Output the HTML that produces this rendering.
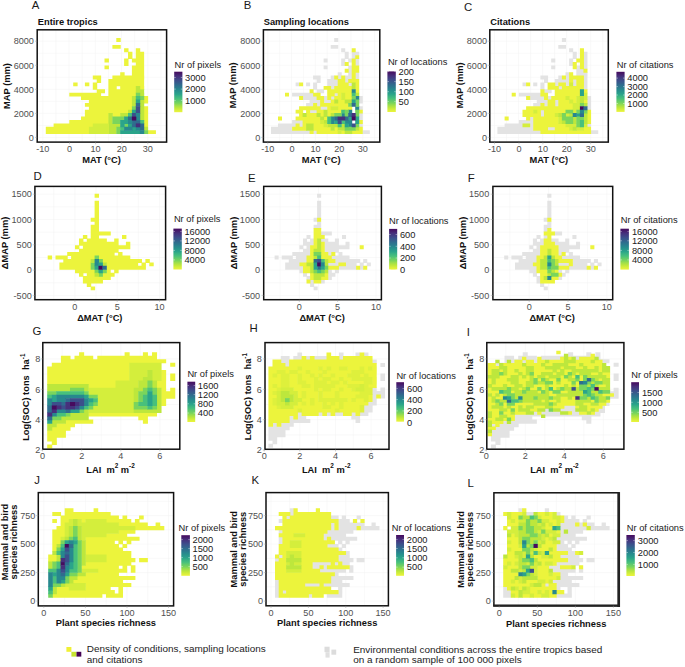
<!DOCTYPE html>
<html><head><meta charset="utf-8"><title>Figure</title>
<style>html,body{margin:0;padding:0;background:#fff;}svg{display:block;}text{font-family:"Liberation Sans",sans-serif;}</style>
</head><body>
<svg width="685" height="667" viewBox="0 0 685 667" font-family="Liberation Sans, sans-serif">
<defs><linearGradient id="vir" x1="0" y1="1" x2="0" y2="0">
<stop offset="0.00" stop-color="#ecf43c"/>
<stop offset="0.06" stop-color="#d4ee3c"/>
<stop offset="0.11" stop-color="#bde73c"/>
<stop offset="0.17" stop-color="#9cde4c"/>
<stop offset="0.22" stop-color="#7ad55c"/>
<stop offset="0.28" stop-color="#61ca6c"/>
<stop offset="0.33" stop-color="#48c07c"/>
<stop offset="0.39" stop-color="#39b283"/>
<stop offset="0.44" stop-color="#2aa48a"/>
<stop offset="0.50" stop-color="#28968c"/>
<stop offset="0.56" stop-color="#27888e"/>
<stop offset="0.61" stop-color="#2b7a8e"/>
<stop offset="0.67" stop-color="#2f6c8e"/>
<stop offset="0.72" stop-color="#365e8c"/>
<stop offset="0.78" stop-color="#3c4f8b"/>
<stop offset="0.83" stop-color="#414084"/>
<stop offset="0.89" stop-color="#46307c"/>
<stop offset="0.94" stop-color="#461e6d"/>
<stop offset="1.00" stop-color="#460b5e"/>
</linearGradient></defs>
<rect width="685" height="667" fill="#ffffff"/>
<g stroke="#f3f3f3" stroke-width="0.5"><line x1="42.80" y1="29.80" x2="42.80" y2="142.10"/><line x1="55.92" y1="29.80" x2="55.92" y2="142.10"/><line x1="69.05" y1="29.80" x2="69.05" y2="142.10"/><line x1="82.18" y1="29.80" x2="82.18" y2="142.10"/><line x1="95.30" y1="29.80" x2="95.30" y2="142.10"/><line x1="108.43" y1="29.80" x2="108.43" y2="142.10"/><line x1="121.55" y1="29.80" x2="121.55" y2="142.10"/><line x1="134.68" y1="29.80" x2="134.68" y2="142.10"/><line x1="147.80" y1="29.80" x2="147.80" y2="142.10"/><line x1="160.93" y1="29.80" x2="160.93" y2="142.10"/><line x1="37.20" y1="41.20" x2="166.60" y2="41.20"/><line x1="37.20" y1="53.23" x2="166.60" y2="53.23"/><line x1="37.20" y1="65.25" x2="166.60" y2="65.25"/><line x1="37.20" y1="77.28" x2="166.60" y2="77.28"/><line x1="37.20" y1="89.30" x2="166.60" y2="89.30"/><line x1="37.20" y1="101.33" x2="166.60" y2="101.33"/><line x1="37.20" y1="113.35" x2="166.60" y2="113.35"/><line x1="37.20" y1="125.38" x2="166.60" y2="125.38"/><line x1="37.20" y1="137.40" x2="166.60" y2="137.40"/></g>
<path fill="#ecf43c" d="M116.3 38.1h4.42v3.91h-4.42zM112.4 44.9h8.33v3.91h-8.33zM124.1 48.3h4.42v3.91h-4.42zM135.8 48.3h4.42v3.91h-4.42zM128.0 51.8h4.42v3.91h-4.42zM135.8 51.8h8.33v3.91h-8.33zM128.0 55.2h4.42v3.91h-4.42zM135.8 55.2h8.33v3.91h-8.33zM104.5 58.6h4.42v3.91h-4.42zM124.1 58.6h4.42v3.91h-4.42zM131.9 58.6h12.25v3.91h-12.25zM124.1 62.0h4.42v3.91h-4.42zM135.8 62.0h8.33v3.91h-8.33zM104.5 65.4h4.42v3.91h-4.42zM131.9 65.4h12.25v3.91h-12.25zM131.9 68.8h12.25v3.91h-12.25zM120.2 72.2h4.42v3.91h-4.42zM131.9 72.2h12.25v3.91h-12.25zM92.8 75.6h8.33v3.91h-8.33zM112.4 75.6h31.82v3.91h-31.82zM96.7 79.0h4.42v3.91h-4.42zM108.4 79.0h35.73v3.91h-35.73zM73.2 82.4h4.42v3.91h-4.42zM84.9 82.4h4.42v3.91h-4.42zM92.8 82.4h4.42v3.91h-4.42zM108.4 82.4h35.73v3.91h-35.73zM92.8 85.9h4.42v3.91h-4.42zM108.4 85.9h8.33v3.91h-8.33zM120.2 85.9h16.16v3.91h-16.16zM139.8 85.9h4.42v3.91h-4.42zM96.7 89.3h8.33v3.91h-8.33zM108.4 89.3h27.91v3.91h-27.91zM69.3 92.7h31.82v3.91h-31.82zM108.4 92.7h27.91v3.91h-27.91zM81.0 96.1h51.40v3.91h-51.40zM143.7 96.1h4.42v3.91h-4.42zM88.9 99.5h43.56v3.91h-43.56zM143.7 99.5h4.42v3.91h-4.42zM84.9 102.9h47.48v3.91h-47.48zM88.9 106.3h43.56v3.91h-43.56zM143.7 106.3h4.42v3.91h-4.42zM84.9 109.7h43.56v3.91h-43.56zM143.7 109.7h4.42v3.91h-4.42zM84.9 113.1h23.99v3.91h-23.99zM112.4 113.1h8.33v3.91h-8.33zM143.7 113.1h4.42v3.91h-4.42zM81.0 116.6h27.91v3.91h-27.91zM143.7 116.6h4.42v3.91h-4.42zM69.3 120.0h39.65v3.91h-39.65zM143.7 120.0h4.42v3.91h-4.42zM53.6 123.4h39.65v3.91h-39.65zM143.7 123.4h4.42v3.91h-4.42zM45.8 126.8h43.56v3.91h-43.56zM45.8 130.2h43.56v3.91h-43.56zM147.6 130.2h8.33v3.91h-8.33z"/>
<path fill="#bde73c" d="M135.8 85.9h4.42v3.91h-4.42zM135.8 89.3h8.33v3.91h-8.33zM139.8 92.7h4.42v3.91h-4.42zM131.9 96.1h4.42v3.91h-4.42zM131.9 99.5h4.42v3.91h-4.42zM139.8 99.5h4.42v3.91h-4.42zM131.9 102.9h4.42v3.91h-4.42zM139.8 102.9h4.42v3.91h-4.42zM139.8 106.3h4.42v3.91h-4.42zM128.0 109.7h4.42v3.91h-4.42zM139.8 109.7h4.42v3.91h-4.42zM108.4 113.1h4.42v3.91h-4.42zM120.2 113.1h8.33v3.91h-8.33zM139.8 113.1h4.42v3.91h-4.42zM108.4 116.6h4.42v3.91h-4.42zM139.8 116.6h4.42v3.91h-4.42zM108.4 120.0h4.42v3.91h-4.42zM108.4 123.4h12.25v3.91h-12.25zM108.4 126.8h8.33v3.91h-8.33zM143.7 126.8h4.42v3.91h-4.42zM108.4 130.2h8.33v3.91h-8.33z"/>
<path fill="#7ad55c" d="M135.8 92.7h4.42v3.91h-4.42zM139.8 96.1h4.42v3.91h-4.42zM131.9 106.3h4.42v3.91h-4.42zM112.4 116.6h12.25v3.91h-12.25zM112.4 120.0h8.33v3.91h-8.33zM124.1 123.4h4.42v3.91h-4.42zM116.3 126.8h4.42v3.91h-4.42zM116.3 130.2h4.42v3.91h-4.42zM143.7 130.2h4.42v3.91h-4.42z"/>
<path fill="#48c07c" d="M135.8 96.1h4.42v3.91h-4.42zM128.0 113.1h4.42v3.91h-4.42zM139.8 120.0h4.42v3.91h-4.42zM120.2 126.8h4.42v3.91h-4.42z"/>
<path fill="#2aa48a" d="M135.8 99.5h4.42v3.91h-4.42zM131.9 109.7h4.42v3.91h-4.42zM124.1 116.6h4.42v3.91h-4.42zM120.2 120.0h8.33v3.91h-8.33zM120.2 123.4h4.42v3.91h-4.42zM128.0 123.4h4.42v3.91h-4.42zM131.9 126.8h4.42v3.91h-4.42zM120.2 130.2h20.07v3.91h-20.07z"/>
<path fill="#2f6c8e" d="M135.8 102.9h4.42v3.91h-4.42zM128.0 116.6h4.42v3.91h-4.42zM131.9 120.0h8.33v3.91h-8.33zM131.9 123.4h4.42v3.91h-4.42zM139.8 123.4h4.42v3.91h-4.42zM139.8 126.8h4.42v3.91h-4.42z"/>
<path fill="#3c4f8b" d="M135.8 106.3h4.42v3.91h-4.42zM135.8 109.7h4.42v3.91h-4.42zM131.9 113.1h4.42v3.91h-4.42z"/>
<path fill="#27888e" d="M135.8 113.1h4.42v3.91h-4.42zM135.8 116.6h4.42v3.91h-4.42zM128.0 120.0h4.42v3.91h-4.42zM124.1 126.8h8.33v3.91h-8.33zM135.8 126.8h4.42v3.91h-4.42zM139.8 130.2h4.42v3.91h-4.42z"/>
<path fill="#460b5e" d="M131.9 116.6h4.42v3.91h-4.42z"/>
<path fill="#d4ee3c" d="M92.8 123.4h16.16v3.91h-16.16zM88.9 126.8h20.07v3.91h-20.07zM88.9 130.2h20.07v3.91h-20.07z"/>
<path fill="#46307c" d="M135.8 123.4h4.42v3.91h-4.42z"/>
<rect x="37.20" y="29.80" width="129.40" height="112.30" fill="none" stroke="#111" stroke-width="1.50"/>
<g stroke="#999" stroke-width="0.45"><line x1="42.80" y1="142.10" x2="42.80" y2="144.30"/><line x1="69.50" y1="142.10" x2="69.50" y2="144.30"/><line x1="95.60" y1="142.10" x2="95.60" y2="144.30"/><line x1="121.70" y1="142.10" x2="121.70" y2="144.30"/><line x1="147.80" y1="142.10" x2="147.80" y2="144.30"/><line x1="35.00" y1="41.20" x2="37.20" y2="41.20"/><line x1="35.00" y1="65.30" x2="37.20" y2="65.30"/><line x1="35.00" y1="89.30" x2="37.20" y2="89.30"/><line x1="35.00" y1="113.40" x2="37.20" y2="113.40"/><line x1="35.00" y1="137.40" x2="37.20" y2="137.40"/></g>
<text x="42.80" y="151.70" font-size="9.10" text-anchor="middle" font-weight="normal" fill="#505050">-10</text>
<text x="69.50" y="151.70" font-size="9.10" text-anchor="middle" font-weight="normal" fill="#505050">0</text>
<text x="95.60" y="151.70" font-size="9.10" text-anchor="middle" font-weight="normal" fill="#505050">10</text>
<text x="121.70" y="151.70" font-size="9.10" text-anchor="middle" font-weight="normal" fill="#505050">20</text>
<text x="147.80" y="151.70" font-size="9.10" text-anchor="middle" font-weight="normal" fill="#505050">30</text>
<text x="33.90" y="44.40" font-size="9.10" text-anchor="end" font-weight="normal" fill="#505050">8000</text>
<text x="33.90" y="68.50" font-size="9.10" text-anchor="end" font-weight="normal" fill="#505050">6000</text>
<text x="33.90" y="92.50" font-size="9.10" text-anchor="end" font-weight="normal" fill="#505050">4000</text>
<text x="33.90" y="116.60" font-size="9.10" text-anchor="end" font-weight="normal" fill="#505050">2000</text>
<text x="33.90" y="140.60" font-size="9.10" text-anchor="end" font-weight="normal" fill="#505050">0</text>
<text x="31.80" y="8.80" font-size="11.40" text-anchor="start" font-weight="normal" fill="#1a1a1a">A</text>
<text x="37.80" y="24.60" font-size="9.30" text-anchor="start" font-weight="bold" fill="#111">Entire tropics</text>
<text x="101.50" y="162.70" font-size="9.30" text-anchor="middle" font-weight="bold" fill="#111">MAT (°C)</text>
<text x="10.30" y="86.00" font-size="9.30" text-anchor="middle" font-weight="bold" fill="#111" transform="rotate(-90 10.3 86)">MAP (mm)</text>
<text x="174.60" y="67.80" font-size="9.30" text-anchor="start" font-weight="normal" fill="#1a1a1a">Nr of pixels</text>
<rect x="174.20" y="71.70" width="8.20" height="40.50" fill="url(#vir)"/>
<g stroke="#fff" stroke-width="0.5" opacity="0.8"><line x1="174.20" y1="77.50" x2="175.80" y2="77.50"/><line x1="180.80" y1="77.50" x2="182.40" y2="77.50"/><line x1="174.20" y1="89.10" x2="175.80" y2="89.10"/><line x1="180.80" y1="89.10" x2="182.40" y2="89.10"/><line x1="174.20" y1="100.70" x2="175.80" y2="100.70"/><line x1="180.80" y1="100.70" x2="182.40" y2="100.70"/></g>
<text x="185.00" y="80.80" font-size="9.30" text-anchor="start" font-weight="normal" fill="#1a1a1a">3000</text>
<text x="185.00" y="92.40" font-size="9.30" text-anchor="start" font-weight="normal" fill="#1a1a1a">2000</text>
<text x="185.00" y="104.00" font-size="9.30" text-anchor="start" font-weight="normal" fill="#1a1a1a">1000</text>
<g stroke="#f3f3f3" stroke-width="0.5"><line x1="267.80" y1="29.80" x2="267.80" y2="142.10"/><line x1="279.68" y1="29.80" x2="279.68" y2="142.10"/><line x1="291.55" y1="29.80" x2="291.55" y2="142.10"/><line x1="303.43" y1="29.80" x2="303.43" y2="142.10"/><line x1="315.30" y1="29.80" x2="315.30" y2="142.10"/><line x1="327.18" y1="29.80" x2="327.18" y2="142.10"/><line x1="339.05" y1="29.80" x2="339.05" y2="142.10"/><line x1="350.93" y1="29.80" x2="350.93" y2="142.10"/><line x1="362.80" y1="29.80" x2="362.80" y2="142.10"/><line x1="374.68" y1="29.80" x2="374.68" y2="142.10"/><line x1="263.40" y1="41.20" x2="379.80" y2="41.20"/><line x1="263.40" y1="53.23" x2="379.80" y2="53.23"/><line x1="263.40" y1="65.25" x2="379.80" y2="65.25"/><line x1="263.40" y1="77.28" x2="379.80" y2="77.28"/><line x1="263.40" y1="89.30" x2="379.80" y2="89.30"/><line x1="263.40" y1="101.33" x2="379.80" y2="101.33"/><line x1="263.40" y1="113.35" x2="379.80" y2="113.35"/><line x1="263.40" y1="125.38" x2="379.80" y2="125.38"/><line x1="263.40" y1="137.40" x2="379.80" y2="137.40"/></g>
<path fill="#e3e3e3" d="M334.2 38.1h4.01v3.91h-4.01zM330.7 44.9h7.52v3.91h-7.52zM341.2 48.3h4.01v3.91h-4.01zM344.7 51.8h4.01v3.91h-4.01zM351.7 51.8h7.52v3.91h-7.52zM344.7 55.2h4.01v3.91h-4.01zM351.7 55.2h4.01v3.91h-4.01zM323.6 58.6h4.01v3.91h-4.01zM341.2 58.6h4.01v3.91h-4.01zM348.2 58.6h4.01v3.91h-4.01zM355.2 58.6h4.01v3.91h-4.01zM341.2 62.0h4.01v3.91h-4.01zM355.2 62.0h4.01v3.91h-4.01zM323.6 65.4h4.01v3.91h-4.01zM348.2 65.4h4.01v3.91h-4.01zM348.2 68.8h4.01v3.91h-4.01zM337.7 72.2h4.01v3.91h-4.01zM348.2 72.2h4.01v3.91h-4.01zM355.2 72.2h4.01v3.91h-4.01zM313.1 75.6h7.52v3.91h-7.52zM330.7 75.6h4.01v3.91h-4.01zM337.7 75.6h4.01v3.91h-4.01zM344.7 75.6h7.52v3.91h-7.52zM355.2 75.6h4.01v3.91h-4.01zM316.6 79.0h4.01v3.91h-4.01zM327.2 79.0h11.03v3.91h-11.03zM344.7 79.0h4.01v3.91h-4.01zM295.6 82.4h4.01v3.91h-4.01zM306.1 82.4h4.01v3.91h-4.01zM313.1 82.4h4.01v3.91h-4.01zM327.2 82.4h11.03v3.91h-11.03zM348.2 82.4h4.01v3.91h-4.01zM313.1 85.9h4.01v3.91h-4.01zM330.7 85.9h4.01v3.91h-4.01zM316.6 89.3h7.52v3.91h-7.52zM292.1 92.7h21.56v3.91h-21.56zM334.2 92.7h4.01v3.91h-4.01zM302.6 96.1h14.54v3.91h-14.54zM323.6 96.1h4.01v3.91h-4.01zM330.7 96.1h4.01v3.91h-4.01zM358.8 96.1h4.01v3.91h-4.01zM309.6 99.5h11.03v3.91h-11.03zM323.6 99.5h7.52v3.91h-7.52zM358.8 99.5h4.01v3.91h-4.01zM306.1 102.9h7.52v3.91h-7.52zM316.6 102.9h4.01v3.91h-4.01zM320.1 106.3h7.52v3.91h-7.52zM358.8 106.3h4.01v3.91h-4.01zM309.6 109.7h7.52v3.91h-7.52zM358.8 113.1h4.01v3.91h-4.01zM358.8 116.6h4.01v3.91h-4.01zM292.1 120.0h11.03v3.91h-11.03zM278.0 123.4h18.05v3.91h-18.05zM299.1 123.4h4.01v3.91h-4.01zM358.8 123.4h4.01v3.91h-4.01zM271.0 126.8h21.56v3.91h-21.56zM271.0 130.2h39.11v3.91h-39.11zM313.1 130.2h4.01v3.91h-4.01zM362.3 130.2h7.52v3.91h-7.52z"/>
<path fill="#ecf43c" d="M351.7 48.3h4.01v3.91h-4.01zM355.2 55.2h4.01v3.91h-4.01zM351.7 58.6h4.01v3.91h-4.01zM344.7 62.0h4.01v3.91h-4.01zM351.7 62.0h4.01v3.91h-4.01zM351.7 65.4h7.52v3.91h-7.52zM344.7 68.8h4.01v3.91h-4.01zM351.7 68.8h7.52v3.91h-7.52zM351.7 72.2h4.01v3.91h-4.01zM334.2 75.6h4.01v3.91h-4.01zM341.2 75.6h4.01v3.91h-4.01zM351.7 75.6h4.01v3.91h-4.01zM337.7 79.0h7.52v3.91h-7.52zM348.2 79.0h11.03v3.91h-11.03zM299.1 82.4h4.01v3.91h-4.01zM337.7 82.4h11.03v3.91h-11.03zM355.2 82.4h4.01v3.91h-4.01zM323.6 85.9h7.52v3.91h-7.52zM334.2 85.9h18.05v3.91h-18.05zM355.2 85.9h4.01v3.91h-4.01zM309.6 89.3h4.01v3.91h-4.01zM327.2 89.3h25.07v3.91h-25.07zM355.2 89.3h4.01v3.91h-4.01zM285.0 92.7h4.01v3.91h-4.01zM313.1 92.7h7.52v3.91h-7.52zM327.2 92.7h7.52v3.91h-7.52zM337.7 92.7h4.01v3.91h-4.01zM344.7 92.7h7.52v3.91h-7.52zM299.1 96.1h4.01v3.91h-4.01zM316.6 96.1h7.52v3.91h-7.52zM327.2 96.1h4.01v3.91h-4.01zM334.2 96.1h7.52v3.91h-7.52zM344.7 96.1h7.52v3.91h-7.52zM320.1 99.5h4.01v3.91h-4.01zM330.7 99.5h4.01v3.91h-4.01zM337.7 99.5h7.52v3.91h-7.52zM313.1 102.9h4.01v3.91h-4.01zM320.1 102.9h28.58v3.91h-28.58zM299.1 106.3h21.56v3.91h-21.56zM327.2 106.3h4.01v3.91h-4.01zM337.7 106.3h14.54v3.91h-14.54zM295.6 109.7h7.52v3.91h-7.52zM306.1 109.7h4.01v3.91h-4.01zM316.6 109.7h7.52v3.91h-7.52zM327.2 109.7h14.54v3.91h-14.54zM358.8 109.7h4.01v3.91h-4.01zM299.1 113.1h4.01v3.91h-4.01zM306.1 113.1h11.03v3.91h-11.03zM320.1 113.1h4.01v3.91h-4.01zM327.2 113.1h4.01v3.91h-4.01zM278.0 116.6h4.01v3.91h-4.01zM295.6 116.6h25.07v3.91h-25.07zM323.6 116.6h4.01v3.91h-4.01zM302.6 120.0h18.05v3.91h-18.05zM358.8 120.0h4.01v3.91h-4.01zM295.6 123.4h4.01v3.91h-4.01zM302.6 123.4h4.01v3.91h-4.01zM313.1 123.4h11.03v3.91h-11.03zM292.1 126.8h14.54v3.91h-14.54zM313.1 126.8h18.05v3.91h-18.05zM334.2 126.8h4.01v3.91h-4.01zM358.8 126.8h4.01v3.91h-4.01zM309.6 130.2h4.01v3.91h-4.01zM316.6 130.2h21.56v3.91h-21.56zM341.2 130.2h4.01v3.91h-4.01zM351.7 130.2h11.03v3.91h-11.03z"/>
<path fill="#bde73c" d="M351.7 82.4h4.01v3.91h-4.01zM351.7 85.9h4.01v3.91h-4.01zM355.2 92.7h4.01v3.91h-4.01zM334.2 99.5h4.01v3.91h-4.01zM344.7 99.5h7.52v3.91h-7.52zM323.6 109.7h4.01v3.91h-4.01zM302.6 113.1h4.01v3.91h-4.01zM316.6 113.1h4.01v3.91h-4.01zM323.6 113.1h4.01v3.91h-4.01zM330.7 113.1h4.01v3.91h-4.01zM320.1 116.6h4.01v3.91h-4.01zM323.6 120.0h4.01v3.91h-4.01zM306.1 123.4h7.52v3.91h-7.52zM327.2 123.4h11.03v3.91h-11.03zM341.2 123.4h4.01v3.91h-4.01zM306.1 126.8h7.52v3.91h-7.52zM330.7 126.8h4.01v3.91h-4.01zM337.7 126.8h7.52v3.91h-7.52zM355.2 126.8h4.01v3.91h-4.01zM344.7 130.2h7.52v3.91h-7.52z"/>
<path fill="#27888e" d="M351.7 89.3h4.01v3.91h-4.01zM355.2 96.1h4.01v3.91h-4.01zM355.2 106.3h4.01v3.91h-4.01zM348.2 109.7h4.01v3.91h-4.01zM341.2 113.1h4.01v3.91h-4.01zM330.7 116.6h4.01v3.91h-4.01zM330.7 120.0h4.01v3.91h-4.01zM344.7 120.0h7.52v3.91h-7.52zM348.2 123.4h4.01v3.91h-4.01z"/>
<path fill="#d4ee3c" d="M341.2 92.7h4.01v3.91h-4.01zM341.2 96.1h4.01v3.91h-4.01zM330.7 106.3h7.52v3.91h-7.52zM320.1 120.0h4.01v3.91h-4.01zM323.6 123.4h4.01v3.91h-4.01zM337.7 130.2h4.01v3.91h-4.01z"/>
<path fill="#48c07c" d="M351.7 92.7h4.01v3.91h-4.01zM341.2 109.7h4.01v3.91h-4.01zM327.2 116.6h4.01v3.91h-4.01zM327.2 120.0h4.01v3.91h-4.01zM341.2 120.0h4.01v3.91h-4.01zM337.7 123.4h4.01v3.91h-4.01z"/>
<path fill="#7ad55c" d="M351.7 96.1h4.01v3.91h-4.01zM355.2 99.5h4.01v3.91h-4.01zM348.2 102.9h4.01v3.91h-4.01zM355.2 102.9h4.01v3.91h-4.01zM344.7 109.7h4.01v3.91h-4.01zM355.2 109.7h4.01v3.91h-4.01zM334.2 113.1h7.52v3.91h-7.52zM344.7 113.1h4.01v3.91h-4.01zM355.2 113.1h4.01v3.91h-4.01zM355.2 123.4h4.01v3.91h-4.01zM344.7 126.8h11.03v3.91h-11.03z"/>
<path fill="#2aa48a" d="M351.7 99.5h4.01v3.91h-4.01zM348.2 116.6h4.01v3.91h-4.01zM355.2 116.6h4.01v3.91h-4.01zM334.2 120.0h4.01v3.91h-4.01zM355.2 120.0h4.01v3.91h-4.01zM344.7 123.4h4.01v3.91h-4.01z"/>
<path fill="#2f6c8e" d="M351.7 102.9h4.01v3.91h-4.01zM348.2 113.1h4.01v3.91h-4.01zM334.2 116.6h4.01v3.91h-4.01zM344.7 116.6h4.01v3.91h-4.01z"/>
<path fill="#46307c" d="M351.7 113.1h4.01v3.91h-4.01zM337.7 116.6h7.52v3.91h-7.52z"/>
<path fill="#460b5e" d="M351.7 116.6h4.01v3.91h-4.01z"/>
<path fill="#3c4f8b" d="M337.7 120.0h4.01v3.91h-4.01zM351.7 123.4h4.01v3.91h-4.01z"/>
<rect x="263.40" y="29.80" width="116.40" height="112.30" fill="none" stroke="#111" stroke-width="1.50"/>
<g stroke="#999" stroke-width="0.45"><line x1="267.80" y1="142.10" x2="267.80" y2="144.30"/><line x1="292.00" y1="142.10" x2="292.00" y2="144.30"/><line x1="315.60" y1="142.10" x2="315.60" y2="144.30"/><line x1="339.20" y1="142.10" x2="339.20" y2="144.30"/><line x1="362.80" y1="142.10" x2="362.80" y2="144.30"/><line x1="261.20" y1="41.20" x2="263.40" y2="41.20"/><line x1="261.20" y1="65.30" x2="263.40" y2="65.30"/><line x1="261.20" y1="89.30" x2="263.40" y2="89.30"/><line x1="261.20" y1="113.40" x2="263.40" y2="113.40"/><line x1="261.20" y1="137.40" x2="263.40" y2="137.40"/></g>
<text x="267.80" y="151.70" font-size="9.10" text-anchor="middle" font-weight="normal" fill="#505050">-10</text>
<text x="292.00" y="151.70" font-size="9.10" text-anchor="middle" font-weight="normal" fill="#505050">0</text>
<text x="315.60" y="151.70" font-size="9.10" text-anchor="middle" font-weight="normal" fill="#505050">10</text>
<text x="339.20" y="151.70" font-size="9.10" text-anchor="middle" font-weight="normal" fill="#505050">20</text>
<text x="362.80" y="151.70" font-size="9.10" text-anchor="middle" font-weight="normal" fill="#505050">30</text>
<text x="260.40" y="44.40" font-size="9.10" text-anchor="end" font-weight="normal" fill="#505050">8000</text>
<text x="260.40" y="68.50" font-size="9.10" text-anchor="end" font-weight="normal" fill="#505050">6000</text>
<text x="260.40" y="92.50" font-size="9.10" text-anchor="end" font-weight="normal" fill="#505050">4000</text>
<text x="260.40" y="116.60" font-size="9.10" text-anchor="end" font-weight="normal" fill="#505050">2000</text>
<text x="260.40" y="140.60" font-size="9.10" text-anchor="end" font-weight="normal" fill="#505050">0</text>
<text x="243.70" y="9.30" font-size="11.40" text-anchor="start" font-weight="normal" fill="#1a1a1a">B</text>
<text x="263.70" y="24.60" font-size="9.30" text-anchor="start" font-weight="bold" fill="#111">Sampling locations</text>
<text x="321.20" y="163.00" font-size="9.30" text-anchor="middle" font-weight="bold" fill="#111">MAT (°C)</text>
<text x="236.00" y="85.40" font-size="9.30" text-anchor="middle" font-weight="bold" fill="#111" transform="rotate(-90 236 85.4)">MAP (mm)</text>
<text x="387.90" y="65.00" font-size="9.30" text-anchor="start" font-weight="normal" fill="#1a1a1a">Nr of locations</text>
<rect x="387.40" y="71.40" width="8.40" height="40.60" fill="url(#vir)"/>
<g stroke="#fff" stroke-width="0.5" opacity="0.8"><line x1="387.40" y1="71.60" x2="389.00" y2="71.60"/><line x1="394.20" y1="71.60" x2="395.80" y2="71.60"/><line x1="387.40" y1="81.60" x2="389.00" y2="81.60"/><line x1="394.20" y1="81.60" x2="395.80" y2="81.60"/><line x1="387.40" y1="91.70" x2="389.00" y2="91.70"/><line x1="394.20" y1="91.70" x2="395.80" y2="91.70"/><line x1="387.40" y1="101.70" x2="389.00" y2="101.70"/><line x1="394.20" y1="101.70" x2="395.80" y2="101.70"/></g>
<text x="398.50" y="74.90" font-size="9.30" text-anchor="start" font-weight="normal" fill="#1a1a1a">200</text>
<text x="398.50" y="84.90" font-size="9.30" text-anchor="start" font-weight="normal" fill="#1a1a1a">150</text>
<text x="398.50" y="95.00" font-size="9.30" text-anchor="start" font-weight="normal" fill="#1a1a1a">100</text>
<text x="398.50" y="105.00" font-size="9.30" text-anchor="start" font-weight="normal" fill="#1a1a1a">50</text>
<g stroke="#f3f3f3" stroke-width="0.5"><line x1="494.50" y1="29.80" x2="494.50" y2="142.10"/><line x1="506.52" y1="29.80" x2="506.52" y2="142.10"/><line x1="518.55" y1="29.80" x2="518.55" y2="142.10"/><line x1="530.58" y1="29.80" x2="530.58" y2="142.10"/><line x1="542.60" y1="29.80" x2="542.60" y2="142.10"/><line x1="554.62" y1="29.80" x2="554.62" y2="142.10"/><line x1="566.65" y1="29.80" x2="566.65" y2="142.10"/><line x1="578.68" y1="29.80" x2="578.68" y2="142.10"/><line x1="590.70" y1="29.80" x2="590.70" y2="142.10"/><line x1="602.73" y1="29.80" x2="602.73" y2="142.10"/><line x1="489.80" y1="41.20" x2="608.30" y2="41.20"/><line x1="489.80" y1="53.23" x2="608.30" y2="53.23"/><line x1="489.80" y1="65.25" x2="608.30" y2="65.25"/><line x1="489.80" y1="77.28" x2="608.30" y2="77.28"/><line x1="489.80" y1="89.30" x2="608.30" y2="89.30"/><line x1="489.80" y1="101.33" x2="608.30" y2="101.33"/><line x1="489.80" y1="113.35" x2="608.30" y2="113.35"/><line x1="489.80" y1="125.38" x2="608.30" y2="125.38"/><line x1="489.80" y1="137.40" x2="608.30" y2="137.40"/></g>
<path fill="#e3e3e3" d="M561.9 38.1h4.08v3.91h-4.08zM558.3 44.9h7.67v3.91h-7.67zM569.1 48.3h4.08v3.91h-4.08zM572.7 51.8h4.08v3.91h-4.08zM583.4 51.8h4.08v3.91h-4.08zM572.7 55.2h4.08v3.91h-4.08zM583.4 55.2h4.08v3.91h-4.08zM551.2 58.6h4.08v3.91h-4.08zM569.1 58.6h4.08v3.91h-4.08zM583.4 58.6h4.08v3.91h-4.08zM569.1 62.0h4.08v3.91h-4.08zM583.4 62.0h4.08v3.91h-4.08zM551.2 65.4h4.08v3.91h-4.08zM576.3 65.4h4.08v3.91h-4.08zM583.4 65.4h4.08v3.91h-4.08zM576.3 68.8h7.67v3.91h-7.67zM565.5 72.2h4.08v3.91h-4.08zM576.3 72.2h11.25v3.91h-11.25zM540.4 75.6h7.67v3.91h-7.67zM558.3 75.6h4.08v3.91h-4.08zM565.5 75.6h4.08v3.91h-4.08zM583.4 75.6h4.08v3.91h-4.08zM544.0 79.0h4.08v3.91h-4.08zM554.8 79.0h14.84v3.91h-14.84zM572.7 79.0h4.08v3.91h-4.08zM583.4 79.0h4.08v3.91h-4.08zM522.5 82.4h4.08v3.91h-4.08zM533.2 82.4h4.08v3.91h-4.08zM540.4 82.4h4.08v3.91h-4.08zM554.8 82.4h4.08v3.91h-4.08zM565.5 82.4h4.08v3.91h-4.08zM572.7 82.4h4.08v3.91h-4.08zM583.4 82.4h4.08v3.91h-4.08zM540.4 85.9h4.08v3.91h-4.08zM558.3 85.9h4.08v3.91h-4.08zM583.4 85.9h4.08v3.91h-4.08zM544.0 89.3h7.67v3.91h-7.67zM518.9 92.7h22.01v3.91h-22.01zM529.7 96.1h14.84v3.91h-14.84zM547.6 96.1h4.08v3.91h-4.08zM587.0 96.1h4.08v3.91h-4.08zM536.8 99.5h11.25v3.91h-11.25zM554.8 99.5h4.08v3.91h-4.08zM587.0 99.5h4.08v3.91h-4.08zM533.2 102.9h7.67v3.91h-7.67zM544.0 102.9h4.08v3.91h-4.08zM554.8 102.9h4.08v3.91h-4.08zM587.0 102.9h4.08v3.91h-4.08zM587.0 106.3h4.08v3.91h-4.08zM540.4 109.7h4.08v3.91h-4.08zM540.4 113.1h4.08v3.91h-4.08zM529.7 116.6h4.08v3.91h-4.08zM518.9 120.0h14.84v3.91h-14.84zM504.6 123.4h18.43v3.91h-18.43zM529.7 123.4h4.08v3.91h-4.08zM587.0 123.4h4.08v3.91h-4.08zM497.4 126.8h36.35v3.91h-36.35zM547.6 126.8h7.67v3.91h-7.67zM497.4 130.2h43.52v3.91h-43.52zM590.6 130.2h7.67v3.91h-7.67z"/>
<path fill="#ecf43c" d="M579.9 48.3h4.08v3.91h-4.08zM579.9 51.8h4.08v3.91h-4.08zM579.9 55.2h4.08v3.91h-4.08zM576.3 58.6h7.67v3.91h-7.67zM572.7 62.0h4.08v3.91h-4.08zM579.9 62.0h4.08v3.91h-4.08zM572.7 65.4h4.08v3.91h-4.08zM579.9 65.4h4.08v3.91h-4.08zM583.4 68.8h4.08v3.91h-4.08zM569.1 72.2h4.08v3.91h-4.08zM561.9 75.6h4.08v3.91h-4.08zM569.1 75.6h14.84v3.91h-14.84zM569.1 79.0h4.08v3.91h-4.08zM576.3 79.0h7.67v3.91h-7.67zM526.1 82.4h4.08v3.91h-4.08zM547.6 82.4h7.67v3.91h-7.67zM558.3 82.4h7.67v3.91h-7.67zM576.3 82.4h7.67v3.91h-7.67zM547.6 85.9h11.25v3.91h-11.25zM561.9 85.9h22.01v3.91h-22.01zM540.4 89.3h4.08v3.91h-4.08zM554.8 89.3h25.59v3.91h-25.59zM583.4 89.3h4.08v3.91h-4.08zM511.7 92.7h4.08v3.91h-4.08zM540.4 92.7h7.67v3.91h-7.67zM554.8 92.7h25.59v3.91h-25.59zM526.1 96.1h4.08v3.91h-4.08zM544.0 96.1h4.08v3.91h-4.08zM551.2 96.1h14.84v3.91h-14.84zM569.1 96.1h7.67v3.91h-7.67zM547.6 99.5h7.67v3.91h-7.67zM558.3 99.5h11.25v3.91h-11.25zM572.7 99.5h4.08v3.91h-4.08zM583.4 99.5h4.08v3.91h-4.08zM540.4 102.9h4.08v3.91h-4.08zM547.6 102.9h7.67v3.91h-7.67zM558.3 102.9h14.84v3.91h-14.84zM526.1 106.3h47.10v3.91h-47.10zM522.5 109.7h11.25v3.91h-11.25zM536.8 109.7h4.08v3.91h-4.08zM544.0 109.7h22.01v3.91h-22.01zM587.0 109.7h4.08v3.91h-4.08zM522.5 113.1h18.43v3.91h-18.43zM544.0 113.1h11.25v3.91h-11.25zM587.0 113.1h4.08v3.91h-4.08zM504.6 116.6h4.08v3.91h-4.08zM526.1 116.6h4.08v3.91h-4.08zM533.2 116.6h25.59v3.91h-25.59zM587.0 116.6h4.08v3.91h-4.08zM533.2 120.0h25.59v3.91h-25.59zM587.0 120.0h4.08v3.91h-4.08zM533.2 123.4h32.77v3.91h-32.77zM533.2 126.8h14.84v3.91h-14.84zM554.8 126.8h14.84v3.91h-14.84zM583.4 126.8h7.67v3.91h-7.67zM540.4 130.2h50.69v3.91h-50.69z"/>
<path fill="#d4ee3c" d="M569.1 82.4h4.08v3.91h-4.08zM583.4 92.7h4.08v3.91h-4.08zM565.5 96.1h4.08v3.91h-4.08zM576.3 96.1h4.08v3.91h-4.08zM583.4 96.1h4.08v3.91h-4.08zM569.1 99.5h4.08v3.91h-4.08zM576.3 99.5h4.08v3.91h-4.08zM572.7 102.9h7.67v3.91h-7.67zM572.7 106.3h7.67v3.91h-7.67zM533.2 109.7h4.08v3.91h-4.08zM572.7 109.7h4.08v3.91h-4.08zM554.8 113.1h4.08v3.91h-4.08zM565.5 113.1h4.08v3.91h-4.08zM558.3 116.6h4.08v3.91h-4.08zM558.3 120.0h4.08v3.91h-4.08zM522.5 123.4h7.67v3.91h-7.67zM565.5 123.4h11.25v3.91h-11.25zM583.4 123.4h4.08v3.91h-4.08zM569.1 126.8h4.08v3.91h-4.08zM576.3 126.8h7.67v3.91h-7.67z"/>
<path fill="#2aa48a" d="M579.9 89.3h4.08v3.91h-4.08zM579.9 92.7h4.08v3.91h-4.08zM576.3 113.1h4.08v3.91h-4.08z"/>
<path fill="#bde73c" d="M579.9 96.1h4.08v3.91h-4.08zM579.9 99.5h4.08v3.91h-4.08zM583.4 102.9h4.08v3.91h-4.08zM558.3 113.1h4.08v3.91h-4.08zM569.1 113.1h4.08v3.91h-4.08zM583.4 113.1h4.08v3.91h-4.08zM572.7 116.6h4.08v3.91h-4.08zM583.4 116.6h4.08v3.91h-4.08zM561.9 120.0h4.08v3.91h-4.08zM572.7 120.0h4.08v3.91h-4.08zM583.4 120.0h4.08v3.91h-4.08zM572.7 126.8h4.08v3.91h-4.08z"/>
<path fill="#7ad55c" d="M579.9 102.9h4.08v3.91h-4.08zM565.5 109.7h7.67v3.91h-7.67zM576.3 109.7h4.08v3.91h-4.08zM583.4 109.7h4.08v3.91h-4.08zM561.9 113.1h4.08v3.91h-4.08zM561.9 116.6h11.25v3.91h-11.25zM576.3 116.6h7.67v3.91h-7.67zM565.5 120.0h7.67v3.91h-7.67zM576.3 120.0h4.08v3.91h-4.08zM576.3 123.4h4.08v3.91h-4.08z"/>
<path fill="#460b5e" d="M579.9 106.3h4.08v3.91h-4.08z"/>
<path fill="#2f6c8e" d="M583.4 106.3h4.08v3.91h-4.08zM579.9 113.1h4.08v3.91h-4.08z"/>
<path fill="#27888e" d="M579.9 109.7h4.08v3.91h-4.08zM572.7 113.1h4.08v3.91h-4.08z"/>
<path fill="#48c07c" d="M579.9 120.0h4.08v3.91h-4.08zM579.9 123.4h4.08v3.91h-4.08z"/>
<rect x="489.80" y="29.80" width="118.50" height="112.30" fill="none" stroke="#111" stroke-width="1.50"/>
<g stroke="#999" stroke-width="0.45"><line x1="494.50" y1="142.10" x2="494.50" y2="144.30"/><line x1="519.00" y1="142.10" x2="519.00" y2="144.30"/><line x1="542.90" y1="142.10" x2="542.90" y2="144.30"/><line x1="566.80" y1="142.10" x2="566.80" y2="144.30"/><line x1="590.70" y1="142.10" x2="590.70" y2="144.30"/><line x1="487.60" y1="41.20" x2="489.80" y2="41.20"/><line x1="487.60" y1="65.30" x2="489.80" y2="65.30"/><line x1="487.60" y1="89.30" x2="489.80" y2="89.30"/><line x1="487.60" y1="113.40" x2="489.80" y2="113.40"/><line x1="487.60" y1="137.40" x2="489.80" y2="137.40"/></g>
<text x="494.50" y="151.70" font-size="9.10" text-anchor="middle" font-weight="normal" fill="#505050">-10</text>
<text x="519.00" y="151.70" font-size="9.10" text-anchor="middle" font-weight="normal" fill="#505050">0</text>
<text x="542.90" y="151.70" font-size="9.10" text-anchor="middle" font-weight="normal" fill="#505050">10</text>
<text x="566.80" y="151.70" font-size="9.10" text-anchor="middle" font-weight="normal" fill="#505050">20</text>
<text x="590.70" y="151.70" font-size="9.10" text-anchor="middle" font-weight="normal" fill="#505050">30</text>
<text x="487.00" y="44.40" font-size="9.10" text-anchor="end" font-weight="normal" fill="#505050">8000</text>
<text x="487.00" y="68.50" font-size="9.10" text-anchor="end" font-weight="normal" fill="#505050">6000</text>
<text x="487.00" y="92.50" font-size="9.10" text-anchor="end" font-weight="normal" fill="#505050">4000</text>
<text x="487.00" y="116.60" font-size="9.10" text-anchor="end" font-weight="normal" fill="#505050">2000</text>
<text x="487.00" y="140.60" font-size="9.10" text-anchor="end" font-weight="normal" fill="#505050">0</text>
<text x="464.10" y="10.60" font-size="11.40" text-anchor="start" font-weight="normal" fill="#1a1a1a">C</text>
<text x="490.30" y="24.60" font-size="9.30" text-anchor="start" font-weight="bold" fill="#111">Citations</text>
<text x="548.90" y="163.00" font-size="9.30" text-anchor="middle" font-weight="bold" fill="#111">MAT (°C)</text>
<text x="463.00" y="85.30" font-size="9.30" text-anchor="middle" font-weight="bold" fill="#111" transform="rotate(-90 463 85.3)">MAP (mm)</text>
<text x="616.70" y="67.50" font-size="9.30" text-anchor="start" font-weight="normal" fill="#1a1a1a">Nr of citations</text>
<rect x="616.40" y="71.80" width="8.20" height="40.10" fill="url(#vir)"/>
<g stroke="#fff" stroke-width="0.5" opacity="0.8"><line x1="616.40" y1="78.10" x2="618.00" y2="78.10"/><line x1="623.00" y1="78.10" x2="624.60" y2="78.10"/><line x1="616.40" y1="86.60" x2="618.00" y2="86.60"/><line x1="623.00" y1="86.60" x2="624.60" y2="86.60"/><line x1="616.40" y1="95.00" x2="618.00" y2="95.00"/><line x1="623.00" y1="95.00" x2="624.60" y2="95.00"/><line x1="616.40" y1="103.50" x2="618.00" y2="103.50"/><line x1="623.00" y1="103.50" x2="624.60" y2="103.50"/></g>
<text x="627.30" y="81.40" font-size="9.30" text-anchor="start" font-weight="normal" fill="#1a1a1a">4000</text>
<text x="627.30" y="89.90" font-size="9.30" text-anchor="start" font-weight="normal" fill="#1a1a1a">3000</text>
<text x="627.30" y="98.30" font-size="9.30" text-anchor="start" font-weight="normal" fill="#1a1a1a">2000</text>
<text x="627.30" y="106.80" font-size="9.30" text-anchor="start" font-weight="normal" fill="#1a1a1a">1000</text>
<g stroke="#f3f3f3" stroke-width="0.5"><line x1="53.75" y1="186.40" x2="53.75" y2="299.70"/><line x1="74.90" y1="186.40" x2="74.90" y2="299.70"/><line x1="96.05" y1="186.40" x2="96.05" y2="299.70"/><line x1="117.20" y1="186.40" x2="117.20" y2="299.70"/><line x1="138.35" y1="186.40" x2="138.35" y2="299.70"/><line x1="159.50" y1="186.40" x2="159.50" y2="299.70"/><line x1="34.90" y1="194.20" x2="165.60" y2="194.20"/><line x1="34.90" y1="206.85" x2="165.60" y2="206.85"/><line x1="34.90" y1="219.50" x2="165.60" y2="219.50"/><line x1="34.90" y1="232.15" x2="165.60" y2="232.15"/><line x1="34.90" y1="244.80" x2="165.60" y2="244.80"/><line x1="34.90" y1="257.45" x2="165.60" y2="257.45"/><line x1="34.90" y1="270.10" x2="165.60" y2="270.10"/><line x1="34.90" y1="282.75" x2="165.60" y2="282.75"/><line x1="34.90" y1="295.40" x2="165.60" y2="295.40"/></g>
<path fill="#ecf43c" d="M94.6 193.8h4.41v3.93h-4.41zM94.6 200.7h4.41v3.93h-4.41zM94.6 204.1h4.41v3.93h-4.41zM94.6 207.5h4.41v3.93h-4.41zM94.6 211.0h4.41v3.93h-4.41zM94.6 214.4h4.41v3.93h-4.41zM90.7 217.8h8.32v3.93h-8.32zM94.6 221.2h4.41v3.93h-4.41zM90.7 224.7h8.32v3.93h-8.32zM90.7 228.1h8.32v3.93h-8.32zM90.7 231.5h20.05v3.93h-20.05zM82.9 235.0h4.41v3.93h-4.41zM90.7 235.0h8.32v3.93h-8.32zM122.0 235.0h4.41v3.93h-4.41zM79.0 238.4h4.41v3.93h-4.41zM86.8 238.4h20.05v3.93h-20.05zM114.2 238.4h4.41v3.93h-4.41zM79.0 241.8h39.60v3.93h-39.60zM125.9 241.8h4.41v3.93h-4.41zM75.0 245.2h4.41v3.93h-4.41zM82.9 245.2h47.42v3.93h-47.42zM79.0 248.7h39.60v3.93h-39.60zM67.2 252.1h47.42v3.93h-47.42zM118.1 252.1h4.41v3.93h-4.41zM47.7 255.5h4.41v3.93h-4.41zM55.5 255.5h12.23v3.93h-12.23zM71.1 255.5h23.96v3.93h-23.96zM98.5 255.5h31.78v3.93h-31.78zM63.3 259.0h27.87v3.93h-27.87zM102.4 259.0h39.60v3.93h-39.60zM145.4 259.0h4.41v3.93h-4.41zM59.4 262.4h31.78v3.93h-31.78zM106.3 262.4h31.78v3.93h-31.78zM141.5 262.4h4.41v3.93h-4.41zM149.3 262.4h4.41v3.93h-4.41zM59.4 265.8h31.78v3.93h-31.78zM106.3 265.8h39.60v3.93h-39.60zM75.0 269.3h20.05v3.93h-20.05zM106.3 269.3h4.41v3.93h-4.41zM114.2 269.3h4.41v3.93h-4.41zM79.0 272.7h4.41v3.93h-4.41zM86.8 272.7h8.32v3.93h-8.32zM102.4 272.7h12.23v3.93h-12.23zM82.9 276.1h27.87v3.93h-27.87zM82.9 279.6h20.05v3.93h-20.05zM86.8 283.0h4.41v3.93h-4.41zM90.7 286.4h4.41v3.93h-4.41z"/>
<path fill="#7ad55c" d="M94.6 255.5h4.41v3.93h-4.41zM98.5 259.0h4.41v3.93h-4.41zM90.7 262.4h4.41v3.93h-4.41zM90.7 265.8h4.41v3.93h-4.41zM94.6 269.3h4.41v3.93h-4.41zM102.4 269.3h4.41v3.93h-4.41zM98.5 272.7h4.41v3.93h-4.41z"/>
<path fill="#bde73c" d="M90.7 259.0h4.41v3.93h-4.41zM102.4 262.4h4.41v3.93h-4.41zM94.6 272.7h4.41v3.93h-4.41z"/>
<path fill="#27888e" d="M94.6 259.0h4.41v3.93h-4.41zM94.6 262.4h4.41v3.93h-4.41z"/>
<path fill="#2aa48a" d="M98.5 262.4h4.41v3.93h-4.41zM94.6 265.8h4.41v3.93h-4.41zM98.5 269.3h4.41v3.93h-4.41z"/>
<path fill="#460b5e" d="M98.5 265.8h4.41v3.93h-4.41z"/>
<path fill="#2f6c8e" d="M102.4 265.8h4.41v3.93h-4.41z"/>
<rect x="34.90" y="186.40" width="130.70" height="113.30" fill="none" stroke="#111" stroke-width="1.50"/>
<g stroke="#999" stroke-width="0.45"><line x1="74.90" y1="299.70" x2="74.90" y2="301.90"/><line x1="117.20" y1="299.70" x2="117.20" y2="301.90"/><line x1="159.50" y1="299.70" x2="159.50" y2="301.90"/><line x1="32.70" y1="194.20" x2="34.90" y2="194.20"/><line x1="32.70" y1="219.50" x2="34.90" y2="219.50"/><line x1="32.70" y1="244.80" x2="34.90" y2="244.80"/><line x1="32.70" y1="270.10" x2="34.90" y2="270.10"/><line x1="32.70" y1="295.40" x2="34.90" y2="295.40"/></g>
<text x="74.90" y="309.60" font-size="9.10" text-anchor="middle" font-weight="normal" fill="#505050">0</text>
<text x="117.20" y="309.60" font-size="9.10" text-anchor="middle" font-weight="normal" fill="#505050">5</text>
<text x="159.50" y="309.60" font-size="9.10" text-anchor="middle" font-weight="normal" fill="#505050">10</text>
<text x="31.80" y="197.40" font-size="9.10" text-anchor="end" font-weight="normal" fill="#505050">1500</text>
<text x="31.80" y="222.70" font-size="9.10" text-anchor="end" font-weight="normal" fill="#505050">1000</text>
<text x="31.80" y="248.00" font-size="9.10" text-anchor="end" font-weight="normal" fill="#505050">500</text>
<text x="31.80" y="273.30" font-size="9.10" text-anchor="end" font-weight="normal" fill="#505050">0</text>
<text x="31.80" y="298.60" font-size="9.10" text-anchor="end" font-weight="normal" fill="#505050">-500</text>
<text x="33.50" y="180.00" font-size="11.40" text-anchor="start" font-weight="normal" fill="#1a1a1a">D</text>
<text x="99.80" y="320.60" font-size="9.30" text-anchor="middle" font-weight="bold" fill="#111">ΔMAT (°C)</text>
<text x="7.80" y="243.00" font-size="9.30" text-anchor="middle" font-weight="bold" fill="#111" transform="rotate(-90 7.8 243)">ΔMAP (mm)</text>
<text x="173.90" y="222.00" font-size="9.30" text-anchor="start" font-weight="normal" fill="#1a1a1a">Nr of pixels</text>
<rect x="173.40" y="228.60" width="8.40" height="40.90" fill="url(#vir)"/>
<g stroke="#fff" stroke-width="0.5" opacity="0.8"><line x1="173.40" y1="231.40" x2="175.00" y2="231.40"/><line x1="180.20" y1="231.40" x2="181.80" y2="231.40"/><line x1="173.40" y1="240.90" x2="175.00" y2="240.90"/><line x1="180.20" y1="240.90" x2="181.80" y2="240.90"/><line x1="173.40" y1="250.40" x2="175.00" y2="250.40"/><line x1="180.20" y1="250.40" x2="181.80" y2="250.40"/><line x1="173.40" y1="259.90" x2="175.00" y2="259.90"/><line x1="180.20" y1="259.90" x2="181.80" y2="259.90"/></g>
<text x="184.40" y="234.70" font-size="9.30" text-anchor="start" font-weight="normal" fill="#1a1a1a">16000</text>
<text x="184.40" y="244.20" font-size="9.30" text-anchor="start" font-weight="normal" fill="#1a1a1a">12000</text>
<text x="184.40" y="253.70" font-size="9.30" text-anchor="start" font-weight="normal" fill="#1a1a1a">8000</text>
<text x="184.40" y="263.20" font-size="9.30" text-anchor="start" font-weight="normal" fill="#1a1a1a">4000</text>
<g stroke="#f3f3f3" stroke-width="0.5"><line x1="280.12" y1="186.40" x2="280.12" y2="299.70"/><line x1="299.30" y1="186.40" x2="299.30" y2="299.70"/><line x1="318.48" y1="186.40" x2="318.48" y2="299.70"/><line x1="337.65" y1="186.40" x2="337.65" y2="299.70"/><line x1="356.82" y1="186.40" x2="356.82" y2="299.70"/><line x1="376.00" y1="186.40" x2="376.00" y2="299.70"/><line x1="263.70" y1="194.20" x2="381.40" y2="194.20"/><line x1="263.70" y1="206.85" x2="381.40" y2="206.85"/><line x1="263.70" y1="219.50" x2="381.40" y2="219.50"/><line x1="263.70" y1="232.15" x2="381.40" y2="232.15"/><line x1="263.70" y1="244.80" x2="381.40" y2="244.80"/><line x1="263.70" y1="257.45" x2="381.40" y2="257.45"/><line x1="263.70" y1="270.10" x2="381.40" y2="270.10"/><line x1="263.70" y1="282.75" x2="381.40" y2="282.75"/><line x1="263.70" y1="295.40" x2="381.40" y2="295.40"/></g>
<path fill="#e3e3e3" d="M317.1 193.8h4.04v3.93h-4.04zM317.1 200.7h4.04v3.93h-4.04zM317.1 204.1h4.04v3.93h-4.04zM317.1 207.5h4.04v3.93h-4.04zM317.1 211.0h4.04v3.93h-4.04zM317.1 214.4h4.04v3.93h-4.04zM313.6 217.8h4.04v3.93h-4.04zM317.1 221.2h4.04v3.93h-4.04zM313.6 224.7h7.59v3.93h-7.59zM320.7 231.5h11.13v3.93h-11.13zM306.5 235.0h4.04v3.93h-4.04zM342.0 235.0h4.04v3.93h-4.04zM303.0 238.4h4.04v3.93h-4.04zM310.1 238.4h4.04v3.93h-4.04zM320.7 238.4h7.59v3.93h-7.59zM334.9 238.4h4.04v3.93h-4.04zM303.0 241.8h11.13v3.93h-11.13zM324.2 241.8h14.68v3.93h-14.68zM345.5 241.8h4.04v3.93h-4.04zM299.4 245.2h4.04v3.93h-4.04zM306.5 245.2h4.04v3.93h-4.04zM324.2 245.2h25.31v3.93h-25.31zM303.0 248.7h7.59v3.93h-7.59zM324.2 248.7h14.68v3.93h-14.68zM292.3 252.1h18.23v3.93h-18.23zM327.8 252.1h4.04v3.93h-4.04zM338.4 252.1h4.04v3.93h-4.04zM274.6 255.5h4.04v3.93h-4.04zM281.7 255.5h11.13v3.93h-11.13zM295.9 255.5h11.13v3.93h-11.13zM331.3 255.5h18.23v3.93h-18.23zM288.8 259.0h18.23v3.93h-18.23zM334.9 259.0h25.31v3.93h-25.31zM363.2 259.0h4.04v3.93h-4.04zM285.2 262.4h14.68v3.93h-14.68zM327.8 262.4h11.13v3.93h-11.13zM345.5 262.4h11.13v3.93h-11.13zM359.7 262.4h4.04v3.93h-4.04zM366.8 262.4h4.04v3.93h-4.04zM285.2 265.8h18.23v3.93h-18.23zM338.4 265.8h18.23v3.93h-18.23zM359.7 265.8h4.04v3.93h-4.04zM299.4 269.3h4.04v3.93h-4.04zM327.8 269.3h4.04v3.93h-4.04zM334.9 269.3h4.04v3.93h-4.04zM303.0 272.7h4.04v3.93h-4.04zM327.8 272.7h7.59v3.93h-7.59zM306.5 276.1h4.04v3.93h-4.04zM327.8 276.1h4.04v3.93h-4.04zM310.1 279.6h4.04v3.93h-4.04zM320.7 279.6h4.04v3.93h-4.04zM310.1 283.0h4.04v3.93h-4.04zM313.6 286.4h4.04v3.93h-4.04z"/>
<path fill="#ecf43c" d="M317.1 217.8h4.04v3.93h-4.04zM313.6 228.1h7.59v3.93h-7.59zM313.6 231.5h7.59v3.93h-7.59zM313.6 235.0h11.13v3.93h-11.13zM313.6 238.4h4.04v3.93h-4.04zM313.6 241.8h4.04v3.93h-4.04zM320.7 241.8h4.04v3.93h-4.04zM310.1 245.2h7.59v3.93h-7.59zM320.7 245.2h4.04v3.93h-4.04zM359.7 245.2h4.04v3.93h-4.04zM310.1 248.7h4.04v3.93h-4.04zM320.7 248.7h4.04v3.93h-4.04zM310.1 252.1h4.04v3.93h-4.04zM320.7 252.1h7.59v3.93h-7.59zM331.3 252.1h4.04v3.93h-4.04zM306.5 255.5h7.59v3.93h-7.59zM320.7 255.5h11.13v3.93h-11.13zM306.5 259.0h7.59v3.93h-7.59zM327.8 259.0h7.59v3.93h-7.59zM299.4 262.4h7.59v3.93h-7.59zM338.4 262.4h7.59v3.93h-7.59zM303.0 265.8h7.59v3.93h-7.59zM327.8 265.8h11.13v3.93h-11.13zM356.1 265.8h4.04v3.93h-4.04zM363.2 265.8h4.04v3.93h-4.04zM303.0 269.3h7.59v3.93h-7.59zM310.1 272.7h4.04v3.93h-4.04zM324.2 272.7h4.04v3.93h-4.04zM310.1 276.1h4.04v3.93h-4.04zM320.7 276.1h7.59v3.93h-7.59zM306.5 279.6h4.04v3.93h-4.04zM313.6 279.6h7.59v3.93h-7.59z"/>
<path fill="#bde73c" d="M317.1 238.4h4.04v3.93h-4.04zM317.1 241.8h4.04v3.93h-4.04zM317.1 245.2h4.04v3.93h-4.04zM313.6 248.7h7.59v3.93h-7.59zM313.6 255.5h4.04v3.93h-4.04zM324.2 259.0h4.04v3.93h-4.04zM306.5 262.4h7.59v3.93h-7.59zM324.2 262.4h4.04v3.93h-4.04zM310.1 265.8h4.04v3.93h-4.04zM310.1 269.3h4.04v3.93h-4.04zM324.2 269.3h4.04v3.93h-4.04zM313.6 272.7h11.13v3.93h-11.13zM313.6 276.1h7.59v3.93h-7.59z"/>
<path fill="#7ad55c" d="M313.6 252.1h7.59v3.93h-7.59zM324.2 265.8h4.04v3.93h-4.04zM313.6 269.3h4.04v3.93h-4.04zM320.7 269.3h4.04v3.93h-4.04z"/>
<path fill="#48c07c" d="M317.1 255.5h4.04v3.93h-4.04zM320.7 259.0h4.04v3.93h-4.04zM317.1 269.3h4.04v3.93h-4.04z"/>
<path fill="#2f6c8e" d="M313.6 259.0h4.04v3.93h-4.04zM317.1 265.8h4.04v3.93h-4.04z"/>
<path fill="#3c4f8b" d="M317.1 259.0h4.04v3.93h-4.04z"/>
<path fill="#2aa48a" d="M313.6 262.4h4.04v3.93h-4.04zM313.6 265.8h4.04v3.93h-4.04zM320.7 265.8h4.04v3.93h-4.04z"/>
<path fill="#460b5e" d="M317.1 262.4h4.04v3.93h-4.04z"/>
<path fill="#27888e" d="M320.7 262.4h4.04v3.93h-4.04z"/>
<rect x="263.70" y="186.40" width="117.70" height="113.30" fill="none" stroke="#111" stroke-width="1.50"/>
<g stroke="#999" stroke-width="0.45"><line x1="299.30" y1="299.70" x2="299.30" y2="301.90"/><line x1="337.65" y1="299.70" x2="337.65" y2="301.90"/><line x1="376.00" y1="299.70" x2="376.00" y2="301.90"/><line x1="261.50" y1="194.20" x2="263.70" y2="194.20"/><line x1="261.50" y1="219.50" x2="263.70" y2="219.50"/><line x1="261.50" y1="244.80" x2="263.70" y2="244.80"/><line x1="261.50" y1="270.10" x2="263.70" y2="270.10"/><line x1="261.50" y1="295.40" x2="263.70" y2="295.40"/></g>
<text x="299.30" y="309.60" font-size="9.10" text-anchor="middle" font-weight="normal" fill="#505050">0</text>
<text x="337.65" y="309.60" font-size="9.10" text-anchor="middle" font-weight="normal" fill="#505050">5</text>
<text x="376.00" y="309.60" font-size="9.10" text-anchor="middle" font-weight="normal" fill="#505050">10</text>
<text x="260.10" y="197.40" font-size="9.10" text-anchor="end" font-weight="normal" fill="#505050">1500</text>
<text x="260.10" y="222.70" font-size="9.10" text-anchor="end" font-weight="normal" fill="#505050">1000</text>
<text x="260.10" y="248.00" font-size="9.10" text-anchor="end" font-weight="normal" fill="#505050">500</text>
<text x="260.10" y="273.30" font-size="9.10" text-anchor="end" font-weight="normal" fill="#505050">0</text>
<text x="260.10" y="298.60" font-size="9.10" text-anchor="end" font-weight="normal" fill="#505050">-500</text>
<text x="248.10" y="181.50" font-size="11.40" text-anchor="start" font-weight="normal" fill="#1a1a1a">E</text>
<text x="322.10" y="321.00" font-size="9.30" text-anchor="middle" font-weight="bold" fill="#111">ΔMAT (°C)</text>
<text x="236.80" y="243.00" font-size="9.30" text-anchor="middle" font-weight="bold" fill="#111" transform="rotate(-90 236.8 243)">ΔMAP (mm)</text>
<text x="389.10" y="224.30" font-size="9.30" text-anchor="start" font-weight="normal" fill="#1a1a1a">Nr of locations</text>
<rect x="389.10" y="228.90" width="8.10" height="40.70" fill="url(#vir)"/>
<g stroke="#fff" stroke-width="0.5" opacity="0.8"><line x1="389.10" y1="234.50" x2="390.70" y2="234.50"/><line x1="395.60" y1="234.50" x2="397.20" y2="234.50"/><line x1="389.10" y1="246.30" x2="390.70" y2="246.30"/><line x1="395.60" y1="246.30" x2="397.20" y2="246.30"/><line x1="389.10" y1="258.00" x2="390.70" y2="258.00"/><line x1="395.60" y1="258.00" x2="397.20" y2="258.00"/><line x1="389.10" y1="269.60" x2="390.70" y2="269.60"/><line x1="395.60" y1="269.60" x2="397.20" y2="269.60"/></g>
<text x="399.90" y="237.80" font-size="9.30" text-anchor="start" font-weight="normal" fill="#1a1a1a">600</text>
<text x="399.90" y="249.60" font-size="9.30" text-anchor="start" font-weight="normal" fill="#1a1a1a">400</text>
<text x="399.90" y="261.30" font-size="9.30" text-anchor="start" font-weight="normal" fill="#1a1a1a">200</text>
<text x="399.90" y="272.90" font-size="9.30" text-anchor="start" font-weight="normal" fill="#1a1a1a">0</text>
<g stroke="#f3f3f3" stroke-width="0.5"><line x1="509.80" y1="186.40" x2="509.80" y2="299.70"/><line x1="529.20" y1="186.40" x2="529.20" y2="299.70"/><line x1="548.60" y1="186.40" x2="548.60" y2="299.70"/><line x1="568.00" y1="186.40" x2="568.00" y2="299.70"/><line x1="587.40" y1="186.40" x2="587.40" y2="299.70"/><line x1="606.80" y1="186.40" x2="606.80" y2="299.70"/><line x1="492.90" y1="194.20" x2="612.70" y2="194.20"/><line x1="492.90" y1="206.85" x2="612.70" y2="206.85"/><line x1="492.90" y1="219.50" x2="612.70" y2="219.50"/><line x1="492.90" y1="232.15" x2="612.70" y2="232.15"/><line x1="492.90" y1="244.80" x2="612.70" y2="244.80"/><line x1="492.90" y1="257.45" x2="612.70" y2="257.45"/><line x1="492.90" y1="270.10" x2="612.70" y2="270.10"/><line x1="492.90" y1="282.75" x2="612.70" y2="282.75"/><line x1="492.90" y1="295.40" x2="612.70" y2="295.40"/></g>
<path fill="#e3e3e3" d="M547.3 193.8h4.08v3.93h-4.08zM547.3 200.7h4.08v3.93h-4.08zM547.3 204.1h4.08v3.93h-4.08zM547.3 207.5h4.08v3.93h-4.08zM547.3 211.0h4.08v3.93h-4.08zM547.3 214.4h4.08v3.93h-4.08zM543.7 217.8h4.08v3.93h-4.08zM547.3 221.2h4.08v3.93h-4.08zM543.7 224.7h7.67v3.93h-7.67zM543.7 228.1h4.08v3.93h-4.08zM554.4 231.5h7.67v3.93h-7.67zM536.5 235.0h4.08v3.93h-4.08zM543.7 235.0h4.08v3.93h-4.08zM572.4 235.0h4.08v3.93h-4.08zM532.9 238.4h4.08v3.93h-4.08zM540.1 238.4h4.08v3.93h-4.08zM550.9 238.4h7.67v3.93h-7.67zM565.2 238.4h4.08v3.93h-4.08zM532.9 241.8h11.25v3.93h-11.25zM554.4 241.8h14.84v3.93h-14.84zM576.0 241.8h4.08v3.93h-4.08zM529.3 245.2h4.08v3.93h-4.08zM536.5 245.2h4.08v3.93h-4.08zM558.0 245.2h22.01v3.93h-22.01zM532.9 248.7h7.67v3.93h-7.67zM558.0 248.7h11.25v3.93h-11.25zM522.2 252.1h18.43v3.93h-18.43zM558.0 252.1h4.08v3.93h-4.08zM568.8 252.1h4.08v3.93h-4.08zM504.2 255.5h4.08v3.93h-4.08zM511.4 255.5h11.25v3.93h-11.25zM525.8 255.5h11.25v3.93h-11.25zM561.6 255.5h18.43v3.93h-18.43zM518.6 259.0h18.43v3.93h-18.43zM572.4 259.0h18.43v3.93h-18.43zM593.9 259.0h4.08v3.93h-4.08zM515.0 262.4h18.43v3.93h-18.43zM558.0 262.4h11.25v3.93h-11.25zM572.4 262.4h14.84v3.93h-14.84zM590.3 262.4h4.08v3.93h-4.08zM597.5 262.4h4.08v3.93h-4.08zM515.0 265.8h22.01v3.93h-22.01zM568.8 265.8h18.43v3.93h-18.43zM590.3 265.8h4.08v3.93h-4.08zM529.3 269.3h7.67v3.93h-7.67zM558.0 269.3h4.08v3.93h-4.08zM565.2 269.3h4.08v3.93h-4.08zM532.9 272.7h4.08v3.93h-4.08zM561.6 272.7h4.08v3.93h-4.08zM536.5 276.1h4.08v3.93h-4.08zM558.0 276.1h4.08v3.93h-4.08zM536.5 279.6h4.08v3.93h-4.08zM540.1 283.0h4.08v3.93h-4.08zM543.7 286.4h4.08v3.93h-4.08z"/>
<path fill="#ecf43c" d="M547.3 217.8h4.08v3.93h-4.08zM547.3 228.1h4.08v3.93h-4.08zM543.7 231.5h11.25v3.93h-11.25zM547.3 235.0h4.08v3.93h-4.08zM543.7 238.4h7.67v3.93h-7.67zM543.7 241.8h11.25v3.93h-11.25zM540.1 245.2h18.43v3.93h-18.43zM590.3 245.2h4.08v3.93h-4.08zM540.1 248.7h7.67v3.93h-7.67zM550.9 248.7h7.67v3.93h-7.67zM540.1 252.1h7.67v3.93h-7.67zM550.9 252.1h7.67v3.93h-7.67zM561.6 252.1h4.08v3.93h-4.08zM536.5 255.5h7.67v3.93h-7.67zM554.4 255.5h7.67v3.93h-7.67zM536.5 259.0h4.08v3.93h-4.08zM558.0 259.0h14.84v3.93h-14.84zM532.9 262.4h7.67v3.93h-7.67zM568.8 262.4h4.08v3.93h-4.08zM536.5 265.8h4.08v3.93h-4.08zM558.0 265.8h11.25v3.93h-11.25zM586.7 265.8h4.08v3.93h-4.08zM593.9 265.8h4.08v3.93h-4.08zM536.5 269.3h11.25v3.93h-11.25zM554.4 269.3h4.08v3.93h-4.08zM540.1 272.7h7.67v3.93h-7.67zM558.0 272.7h4.08v3.93h-4.08zM540.1 276.1h4.08v3.93h-4.08zM550.9 276.1h7.67v3.93h-7.67zM540.1 279.6h14.84v3.93h-14.84z"/>
<path fill="#bde73c" d="M547.3 248.7h4.08v3.93h-4.08zM547.3 252.1h4.08v3.93h-4.08zM543.7 255.5h4.08v3.93h-4.08zM550.9 255.5h4.08v3.93h-4.08zM540.1 259.0h7.67v3.93h-7.67zM554.4 259.0h4.08v3.93h-4.08zM540.1 262.4h7.67v3.93h-7.67zM554.4 262.4h4.08v3.93h-4.08zM540.1 265.8h7.67v3.93h-7.67zM550.9 269.3h4.08v3.93h-4.08zM547.3 272.7h4.08v3.93h-4.08zM543.7 276.1h4.08v3.93h-4.08z"/>
<path fill="#2aa48a" d="M547.3 255.5h4.08v3.93h-4.08z"/>
<path fill="#48c07c" d="M547.3 259.0h4.08v3.93h-4.08zM547.3 265.8h4.08v3.93h-4.08z"/>
<path fill="#7ad55c" d="M550.9 259.0h4.08v3.93h-4.08zM550.9 262.4h4.08v3.93h-4.08zM550.9 265.8h7.67v3.93h-7.67zM547.3 269.3h4.08v3.93h-4.08zM550.9 272.7h7.67v3.93h-7.67z"/>
<path fill="#27888e" d="M547.3 262.4h4.08v3.93h-4.08zM547.3 276.1h4.08v3.93h-4.08z"/>
<rect x="492.90" y="186.40" width="119.80" height="113.30" fill="none" stroke="#111" stroke-width="1.50"/>
<g stroke="#999" stroke-width="0.45"><line x1="529.20" y1="299.70" x2="529.20" y2="301.90"/><line x1="568.00" y1="299.70" x2="568.00" y2="301.90"/><line x1="606.80" y1="299.70" x2="606.80" y2="301.90"/><line x1="490.70" y1="194.20" x2="492.90" y2="194.20"/><line x1="490.70" y1="219.50" x2="492.90" y2="219.50"/><line x1="490.70" y1="244.80" x2="492.90" y2="244.80"/><line x1="490.70" y1="270.10" x2="492.90" y2="270.10"/><line x1="490.70" y1="295.40" x2="492.90" y2="295.40"/></g>
<text x="529.20" y="309.60" font-size="9.10" text-anchor="middle" font-weight="normal" fill="#505050">0</text>
<text x="568.00" y="309.60" font-size="9.10" text-anchor="middle" font-weight="normal" fill="#505050">5</text>
<text x="606.80" y="309.60" font-size="9.10" text-anchor="middle" font-weight="normal" fill="#505050">10</text>
<text x="489.20" y="197.40" font-size="9.10" text-anchor="end" font-weight="normal" fill="#505050">1500</text>
<text x="489.20" y="222.70" font-size="9.10" text-anchor="end" font-weight="normal" fill="#505050">1000</text>
<text x="489.20" y="248.00" font-size="9.10" text-anchor="end" font-weight="normal" fill="#505050">500</text>
<text x="489.20" y="273.30" font-size="9.10" text-anchor="end" font-weight="normal" fill="#505050">0</text>
<text x="489.20" y="298.60" font-size="9.10" text-anchor="end" font-weight="normal" fill="#505050">-500</text>
<text x="467.70" y="181.50" font-size="11.40" text-anchor="start" font-weight="normal" fill="#1a1a1a">F</text>
<text x="552.10" y="321.00" font-size="9.30" text-anchor="middle" font-weight="bold" fill="#111">ΔMAT (°C)</text>
<text x="465.60" y="243.00" font-size="9.30" text-anchor="middle" font-weight="bold" fill="#111" transform="rotate(-90 465.6 243)">ΔMAP (mm)</text>
<text x="620.80" y="222.50" font-size="9.30" text-anchor="start" font-weight="normal" fill="#1a1a1a">Nr of citations</text>
<rect x="620.40" y="228.70" width="8.50" height="40.90" fill="url(#vir)"/>
<g stroke="#fff" stroke-width="0.5" opacity="0.8"><line x1="620.40" y1="231.30" x2="622.00" y2="231.30"/><line x1="627.30" y1="231.30" x2="628.90" y2="231.30"/><line x1="620.40" y1="240.80" x2="622.00" y2="240.80"/><line x1="627.30" y1="240.80" x2="628.90" y2="240.80"/><line x1="620.40" y1="250.40" x2="622.00" y2="250.40"/><line x1="627.30" y1="250.40" x2="628.90" y2="250.40"/><line x1="620.40" y1="259.90" x2="622.00" y2="259.90"/><line x1="627.30" y1="259.90" x2="628.90" y2="259.90"/></g>
<text x="631.90" y="234.60" font-size="9.30" text-anchor="start" font-weight="normal" fill="#1a1a1a">16000</text>
<text x="631.90" y="244.10" font-size="9.30" text-anchor="start" font-weight="normal" fill="#1a1a1a">12000</text>
<text x="631.90" y="253.70" font-size="9.30" text-anchor="start" font-weight="normal" fill="#1a1a1a">8000</text>
<text x="631.90" y="263.20" font-size="9.30" text-anchor="start" font-weight="normal" fill="#1a1a1a">4000</text>
<g stroke="#f3f3f3" stroke-width="0.5"><line x1="62.15" y1="342.60" x2="62.15" y2="449.20"/><line x1="81.70" y1="342.60" x2="81.70" y2="449.20"/><line x1="101.25" y1="342.60" x2="101.25" y2="449.20"/><line x1="120.80" y1="342.60" x2="120.80" y2="449.20"/><line x1="140.35" y1="342.60" x2="140.35" y2="449.20"/><line x1="159.90" y1="342.60" x2="159.90" y2="449.20"/><line x1="42.80" y1="343.70" x2="179.80" y2="343.70"/><line x1="42.80" y1="358.90" x2="179.80" y2="358.90"/><line x1="42.80" y1="374.10" x2="179.80" y2="374.10"/><line x1="42.80" y1="389.30" x2="179.80" y2="389.30"/><line x1="42.80" y1="404.50" x2="179.80" y2="404.50"/><line x1="42.80" y1="419.70" x2="179.80" y2="419.70"/><line x1="42.80" y1="434.90" x2="179.80" y2="434.90"/></g>
<path fill="#ecf43c" d="M79.1 352.2h5.05v4.05h-5.05zM124.6 352.2h5.05v4.05h-5.05zM142.9 352.2h5.05v4.05h-5.05zM152.0 352.2h5.05v4.05h-5.05zM60.9 355.7h9.61v4.05h-9.61zM74.5 355.7h18.72v4.05h-18.72zM97.3 355.7h59.71v4.05h-59.71zM60.9 359.3h105.26v4.05h-105.26zM51.8 362.8h77.94v4.05h-77.94zM170.2 362.8h5.05v4.05h-5.05zM47.2 366.4h82.49v4.05h-82.49zM47.2 369.9h82.49v4.05h-82.49zM161.1 369.9h5.05v4.05h-5.05zM47.2 373.5h82.49v4.05h-82.49zM161.1 373.5h5.05v4.05h-5.05zM170.2 373.5h5.05v4.05h-5.05zM47.2 377.0h82.49v4.05h-82.49zM161.1 377.0h5.05v4.05h-5.05zM170.2 377.0h5.05v4.05h-5.05zM47.2 380.6h68.82v4.05h-68.82zM156.5 380.6h9.61v4.05h-9.61zM88.2 384.1h27.83v4.05h-27.83zM156.5 384.1h9.61v4.05h-9.61zM161.1 387.7h5.05v4.05h-5.05zM170.2 387.7h5.05v4.05h-5.05zM161.1 391.2h14.16v4.05h-14.16zM161.1 394.8h14.16v4.05h-14.16zM161.1 398.3h5.05v4.05h-5.05zM161.1 401.9h5.05v4.05h-5.05zM88.2 412.5h68.82v4.05h-68.82zM138.3 416.1h9.61v4.05h-9.61zM65.4 419.6h27.83v4.05h-27.83zM142.9 419.6h5.05v4.05h-5.05zM56.3 423.2h18.72v4.05h-18.72zM51.8 426.7h18.72v4.05h-18.72zM47.2 430.3h18.72v4.05h-18.72zM47.2 433.8h18.72v4.05h-18.72zM47.2 437.4h9.61v4.05h-9.61zM51.8 440.9h5.05v4.05h-5.05zM47.2 444.4h5.05v4.05h-5.05z"/>
<path fill="#d4ee3c" d="M129.2 362.8h32.38v4.05h-32.38zM129.2 366.4h32.38v4.05h-32.38zM129.2 369.9h18.72v4.05h-18.72zM152.0 369.9h9.61v4.05h-9.61zM129.2 373.5h18.72v4.05h-18.72zM152.0 373.5h9.61v4.05h-9.61zM129.2 377.0h14.16v4.05h-14.16zM152.0 377.0h9.61v4.05h-9.61zM115.5 380.6h23.27v4.05h-23.27zM115.5 384.1h23.27v4.05h-23.27zM88.2 387.7h46.05v4.05h-46.05zM88.2 391.2h46.05v4.05h-46.05zM97.3 394.8h36.94v4.05h-36.94zM97.3 398.3h36.94v4.05h-36.94zM97.3 401.9h36.94v4.05h-36.94zM92.8 405.4h41.49v4.05h-41.49zM88.2 409.0h46.05v4.05h-46.05z"/>
<path fill="#bde73c" d="M147.4 369.9h5.05v4.05h-5.05zM147.4 373.5h5.05v4.05h-5.05zM142.9 377.0h9.61v4.05h-9.61zM138.3 380.6h9.61v4.05h-9.61zM152.0 380.6h5.05v4.05h-5.05zM47.2 384.1h41.49v4.05h-41.49zM138.3 384.1h9.61v4.05h-9.61zM152.0 384.1h5.05v4.05h-5.05zM47.2 387.7h23.27v4.05h-23.27zM83.6 387.7h5.05v4.05h-5.05zM133.7 387.7h9.61v4.05h-9.61zM156.5 387.7h5.05v4.05h-5.05zM133.7 391.2h5.05v4.05h-5.05zM156.5 391.2h5.05v4.05h-5.05zM133.7 394.8h5.05v4.05h-5.05zM156.5 394.8h5.05v4.05h-5.05zM133.7 398.3h5.05v4.05h-5.05zM156.5 398.3h5.05v4.05h-5.05zM156.5 401.9h5.05v4.05h-5.05zM156.5 405.4h5.05v4.05h-5.05zM83.6 409.0h5.05v4.05h-5.05zM133.7 409.0h27.83v4.05h-27.83zM70.0 412.5h18.72v4.05h-18.72zM60.9 416.1h27.83v4.05h-27.83zM51.8 419.6h14.16v4.05h-14.16zM47.2 423.2h9.61v4.05h-9.61zM47.2 426.7h5.05v4.05h-5.05z"/>
<path fill="#7ad55c" d="M147.4 380.6h5.05v4.05h-5.05zM147.4 384.1h5.05v4.05h-5.05zM70.0 387.7h14.16v4.05h-14.16zM142.9 387.7h5.05v4.05h-5.05zM152.0 387.7h5.05v4.05h-5.05zM47.2 391.2h9.61v4.05h-9.61zM83.6 391.2h5.05v4.05h-5.05zM138.3 391.2h9.61v4.05h-9.61zM152.0 391.2h5.05v4.05h-5.05zM88.2 394.8h9.61v4.05h-9.61zM138.3 394.8h5.05v4.05h-5.05zM138.3 398.3h5.05v4.05h-5.05zM92.8 401.9h5.05v4.05h-5.05zM133.7 401.9h5.05v4.05h-5.05zM88.2 405.4h5.05v4.05h-5.05zM133.7 405.4h14.16v4.05h-14.16zM152.0 405.4h5.05v4.05h-5.05zM79.1 409.0h5.05v4.05h-5.05zM65.4 412.5h5.05v4.05h-5.05zM51.8 416.1h9.61v4.05h-9.61z"/>
<path fill="#48c07c" d="M147.4 387.7h5.05v4.05h-5.05zM56.3 391.2h27.83v4.05h-27.83zM47.2 394.8h5.05v4.05h-5.05zM142.9 394.8h5.05v4.05h-5.05zM152.0 394.8h5.05v4.05h-5.05zM92.8 398.3h5.05v4.05h-5.05zM142.9 398.3h5.05v4.05h-5.05zM152.0 398.3h5.05v4.05h-5.05zM88.2 401.9h5.05v4.05h-5.05zM138.3 401.9h9.61v4.05h-9.61zM152.0 401.9h5.05v4.05h-5.05zM83.6 405.4h5.05v4.05h-5.05zM147.4 405.4h5.05v4.05h-5.05zM56.3 412.5h9.61v4.05h-9.61z"/>
<path fill="#2aa48a" d="M147.4 391.2h5.05v4.05h-5.05zM51.8 394.8h5.05v4.05h-5.05zM83.6 394.8h5.05v4.05h-5.05zM147.4 394.8h5.05v4.05h-5.05zM51.8 398.3h5.05v4.05h-5.05zM88.2 398.3h5.05v4.05h-5.05zM147.4 398.3h5.05v4.05h-5.05zM147.4 401.9h5.05v4.05h-5.05zM70.0 409.0h9.61v4.05h-9.61zM47.2 419.6h5.05v4.05h-5.05z"/>
<path fill="#27888e" d="M56.3 394.8h27.83v4.05h-27.83zM47.2 398.3h5.05v4.05h-5.05zM56.3 398.3h9.61v4.05h-9.61zM83.6 398.3h5.05v4.05h-5.05zM47.2 401.9h5.05v4.05h-5.05zM83.6 401.9h5.05v4.05h-5.05zM79.1 405.4h5.05v4.05h-5.05zM56.3 409.0h9.61v4.05h-9.61zM51.8 412.5h5.05v4.05h-5.05z"/>
<path fill="#2f6c8e" d="M65.4 398.3h5.05v4.05h-5.05zM60.9 401.9h5.05v4.05h-5.05zM47.2 405.4h5.05v4.05h-5.05zM47.2 409.0h5.05v4.05h-5.05zM65.4 409.0h5.05v4.05h-5.05zM47.2 416.1h5.05v4.05h-5.05z"/>
<path fill="#3c4f8b" d="M70.0 398.3h14.16v4.05h-14.16zM51.8 401.9h9.61v4.05h-9.61zM79.1 401.9h5.05v4.05h-5.05zM60.9 405.4h5.05v4.05h-5.05zM74.5 405.4h5.05v4.05h-5.05z"/>
<path fill="#46307c" d="M65.4 401.9h5.05v4.05h-5.05zM74.5 401.9h5.05v4.05h-5.05zM56.3 405.4h5.05v4.05h-5.05zM65.4 405.4h9.61v4.05h-9.61zM51.8 409.0h5.05v4.05h-5.05zM47.2 412.5h5.05v4.05h-5.05z"/>
<path fill="#460b5e" d="M70.0 401.9h5.05v4.05h-5.05zM51.8 405.4h5.05v4.05h-5.05z"/>
<rect x="42.80" y="342.60" width="137.00" height="106.60" fill="none" stroke="#111" stroke-width="1.50"/>
<g stroke="#999" stroke-width="0.45"><line x1="42.60" y1="449.20" x2="42.60" y2="451.40"/><line x1="81.70" y1="449.20" x2="81.70" y2="451.40"/><line x1="120.80" y1="449.20" x2="120.80" y2="451.40"/><line x1="159.90" y1="449.20" x2="159.90" y2="451.40"/><line x1="40.60" y1="358.90" x2="42.80" y2="358.90"/><line x1="40.60" y1="389.30" x2="42.80" y2="389.30"/><line x1="40.60" y1="419.70" x2="42.80" y2="419.70"/><line x1="40.60" y1="450.10" x2="42.80" y2="450.10"/></g>
<text x="42.60" y="459.40" font-size="9.10" text-anchor="middle" font-weight="normal" fill="#505050">0</text>
<text x="81.70" y="459.40" font-size="9.10" text-anchor="middle" font-weight="normal" fill="#505050">2</text>
<text x="120.80" y="459.40" font-size="9.10" text-anchor="middle" font-weight="normal" fill="#505050">4</text>
<text x="159.90" y="459.40" font-size="9.10" text-anchor="middle" font-weight="normal" fill="#505050">6</text>
<text x="40.30" y="362.10" font-size="9.10" text-anchor="end" font-weight="normal" fill="#505050">8</text>
<text x="40.30" y="392.50" font-size="9.10" text-anchor="end" font-weight="normal" fill="#505050">6</text>
<text x="40.30" y="422.90" font-size="9.10" text-anchor="end" font-weight="normal" fill="#505050">4</text>
<text x="40.30" y="453.30" font-size="9.10" text-anchor="end" font-weight="normal" fill="#505050">2</text>
<text x="32.60" y="335.20" font-size="11.40" text-anchor="start" font-weight="normal" fill="#1a1a1a">G</text>
<text x="110.50" y="472.60" font-size="9.30" text-anchor="middle" font-weight="bold" fill="#111">LAI&#160; m<tspan font-size="6.4" dy="-4.4">2</tspan><tspan dy="4.4"> m</tspan><tspan font-size="6.4" dy="-4.4">-2</tspan></text>
<text x="29.30" y="397.20" font-size="9.30" text-anchor="middle" font-weight="bold" fill="#111" transform="rotate(-90 29.30 397.20)">Log(SOC) tons&#160; ha<tspan font-size="6.4" dy="-4.4">-1</tspan></text>
<text x="187.40" y="376.70" font-size="9.30" text-anchor="start" font-weight="normal" fill="#1a1a1a">Nr of pixels</text>
<rect x="187.40" y="381.70" width="7.80" height="40.30" fill="url(#vir)"/>
<g stroke="#fff" stroke-width="0.5" opacity="0.8"><line x1="187.40" y1="385.40" x2="189.00" y2="385.40"/><line x1="193.60" y1="385.40" x2="195.20" y2="385.40"/><line x1="187.40" y1="394.60" x2="189.00" y2="394.60"/><line x1="193.60" y1="394.60" x2="195.20" y2="394.60"/><line x1="187.40" y1="403.80" x2="189.00" y2="403.80"/><line x1="193.60" y1="403.80" x2="195.20" y2="403.80"/><line x1="187.40" y1="413.00" x2="189.00" y2="413.00"/><line x1="193.60" y1="413.00" x2="195.20" y2="413.00"/></g>
<text x="197.80" y="388.70" font-size="9.30" text-anchor="start" font-weight="normal" fill="#1a1a1a">1600</text>
<text x="197.80" y="397.90" font-size="9.30" text-anchor="start" font-weight="normal" fill="#1a1a1a">1200</text>
<text x="197.80" y="407.10" font-size="9.30" text-anchor="start" font-weight="normal" fill="#1a1a1a">800</text>
<text x="197.80" y="416.30" font-size="9.30" text-anchor="start" font-weight="normal" fill="#1a1a1a">400</text>
<g stroke="#f3f3f3" stroke-width="0.5"><line x1="282.02" y1="342.60" x2="282.02" y2="449.30"/><line x1="299.83" y1="342.60" x2="299.83" y2="449.30"/><line x1="317.65" y1="342.60" x2="317.65" y2="449.30"/><line x1="335.47" y1="342.60" x2="335.47" y2="449.30"/><line x1="353.28" y1="342.60" x2="353.28" y2="449.30"/><line x1="371.10" y1="342.60" x2="371.10" y2="449.30"/><line x1="265.00" y1="343.70" x2="389.00" y2="343.70"/><line x1="265.00" y1="358.90" x2="389.00" y2="358.90"/><line x1="265.00" y1="374.10" x2="389.00" y2="374.10"/><line x1="265.00" y1="389.30" x2="389.00" y2="389.30"/><line x1="265.00" y1="404.50" x2="389.00" y2="404.50"/><line x1="265.00" y1="419.70" x2="389.00" y2="419.70"/><line x1="265.00" y1="434.90" x2="389.00" y2="434.90"/></g>
<path fill="#e3e3e3" d="M297.4 352.4h4.65v4.01h-4.65zM338.9 352.4h4.65v4.01h-4.65zM355.5 352.4h4.65v4.01h-4.65zM363.8 352.4h4.65v4.01h-4.65zM280.8 355.9h8.79v4.01h-8.79zM293.3 355.9h8.79v4.01h-8.79zM305.7 355.9h4.65v4.01h-4.65zM314.0 355.9h12.94v4.01h-12.94zM338.9 355.9h4.65v4.01h-4.65zM280.8 359.4h8.79v4.01h-8.79zM372.1 359.4h4.65v4.01h-4.65zM285.0 362.9h4.65v4.01h-4.65zM380.4 362.9h4.65v4.01h-4.65zM380.4 373.5h4.65v4.01h-4.65zM380.4 377.0h4.65v4.01h-4.65zM372.1 387.5h4.65v4.01h-4.65zM380.4 387.5h4.65v4.01h-4.65zM372.1 391.0h12.94v4.01h-12.94zM372.1 394.6h4.65v4.01h-4.65zM380.4 394.6h4.65v4.01h-4.65zM372.1 398.1h4.65v4.01h-4.65zM367.9 401.6h8.79v4.01h-8.79zM363.8 405.1h8.79v4.01h-8.79zM363.8 408.6h8.79v4.01h-8.79zM297.4 412.1h4.65v4.01h-4.65zM318.2 412.1h4.65v4.01h-4.65zM326.5 412.1h4.65v4.01h-4.65zM334.8 412.1h8.79v4.01h-8.79zM351.3 412.1h4.65v4.01h-4.65zM359.6 412.1h8.79v4.01h-8.79zM289.1 415.6h4.65v4.01h-4.65zM297.4 415.6h8.79v4.01h-8.79zM351.3 415.6h8.79v4.01h-8.79zM289.1 419.1h21.23v4.01h-21.23zM355.5 419.1h4.65v4.01h-4.65zM272.5 422.7h4.65v4.01h-4.65zM280.8 422.7h12.94v4.01h-12.94zM268.4 426.2h21.23v4.01h-21.23zM268.4 429.7h17.09v4.01h-17.09zM268.4 433.2h17.09v4.01h-17.09zM268.4 436.7h8.79v4.01h-8.79zM272.5 440.2h4.65v4.01h-4.65zM268.4 443.7h4.65v4.01h-4.65z"/>
<path fill="#ecf43c" d="M326.5 352.4h4.65v4.01h-4.65zM359.6 352.4h4.65v4.01h-4.65zM301.6 355.9h4.65v4.01h-4.65zM309.9 355.9h4.65v4.01h-4.65zM326.5 355.9h12.94v4.01h-12.94zM343.0 355.9h29.53v4.01h-29.53zM272.5 359.4h8.79v4.01h-8.79zM289.1 359.4h83.44v4.01h-83.44zM272.5 362.9h12.94v4.01h-12.94zM289.1 362.9h87.59v4.01h-87.59zM268.4 366.5h29.53v4.01h-29.53zM301.6 366.5h17.09v4.01h-17.09zM322.3 366.5h4.65v4.01h-4.65zM330.6 366.5h8.79v4.01h-8.79zM347.2 366.5h12.94v4.01h-12.94zM363.8 366.5h4.65v4.01h-4.65zM372.1 366.5h4.65v4.01h-4.65zM268.4 370.0h8.79v4.01h-8.79zM285.0 370.0h4.65v4.01h-4.65zM297.4 370.0h8.79v4.01h-8.79zM309.9 370.0h12.94v4.01h-12.94zM326.5 370.0h25.38v4.01h-25.38zM363.8 370.0h12.94v4.01h-12.94zM268.4 373.5h4.65v4.01h-4.65zM276.7 373.5h4.65v4.01h-4.65zM289.1 373.5h8.79v4.01h-8.79zM301.6 373.5h8.79v4.01h-8.79zM314.0 373.5h4.65v4.01h-4.65zM322.3 373.5h8.79v4.01h-8.79zM334.8 373.5h12.94v4.01h-12.94zM359.6 373.5h4.65v4.01h-4.65zM367.9 373.5h8.79v4.01h-8.79zM268.4 377.0h12.94v4.01h-12.94zM289.1 377.0h8.79v4.01h-8.79zM301.6 377.0h12.94v4.01h-12.94zM318.2 377.0h4.65v4.01h-4.65zM330.6 377.0h8.79v4.01h-8.79zM343.0 377.0h8.79v4.01h-8.79zM372.1 377.0h4.65v4.01h-4.65zM268.4 380.5h12.94v4.01h-12.94zM289.1 380.5h8.79v4.01h-8.79zM305.7 380.5h8.79v4.01h-8.79zM326.5 380.5h4.65v4.01h-4.65zM338.9 380.5h4.65v4.01h-4.65zM347.2 380.5h17.09v4.01h-17.09zM372.1 380.5h4.65v4.01h-4.65zM268.4 384.0h4.65v4.01h-4.65zM276.7 384.0h4.65v4.01h-4.65zM289.1 384.0h12.94v4.01h-12.94zM309.9 384.0h4.65v4.01h-4.65zM334.8 384.0h12.94v4.01h-12.94zM367.9 384.0h8.79v4.01h-8.79zM268.4 387.5h8.79v4.01h-8.79zM293.3 387.5h21.23v4.01h-21.23zM318.2 387.5h4.65v4.01h-4.65zM330.6 387.5h8.79v4.01h-8.79zM343.0 387.5h8.79v4.01h-8.79zM268.4 391.0h4.65v4.01h-4.65zM297.4 391.0h4.65v4.01h-4.65zM305.7 391.0h12.94v4.01h-12.94zM322.3 391.0h12.94v4.01h-12.94zM338.9 391.0h21.23v4.01h-21.23zM268.4 394.6h8.79v4.01h-8.79zM297.4 394.6h4.65v4.01h-4.65zM305.7 394.6h12.94v4.01h-12.94zM322.3 394.6h12.94v4.01h-12.94zM338.9 394.6h17.09v4.01h-17.09zM367.9 394.6h4.65v4.01h-4.65zM376.2 394.6h4.65v4.01h-4.65zM268.4 398.1h4.65v4.01h-4.65zM301.6 398.1h8.79v4.01h-8.79zM314.0 398.1h4.65v4.01h-4.65zM347.2 398.1h4.65v4.01h-4.65zM355.5 398.1h8.79v4.01h-8.79zM367.9 398.1h4.65v4.01h-4.65zM268.4 401.6h4.65v4.01h-4.65zM297.4 401.6h4.65v4.01h-4.65zM305.7 401.6h4.65v4.01h-4.65zM314.0 401.6h8.79v4.01h-8.79zM326.5 401.6h4.65v4.01h-4.65zM334.8 401.6h4.65v4.01h-4.65zM343.0 401.6h25.38v4.01h-25.38zM268.4 405.1h8.79v4.01h-8.79zM293.3 405.1h29.53v4.01h-29.53zM330.6 405.1h8.79v4.01h-8.79zM343.0 405.1h17.09v4.01h-17.09zM268.4 408.6h29.53v4.01h-29.53zM301.6 408.6h33.68v4.01h-33.68zM338.9 408.6h21.23v4.01h-21.23zM268.4 412.1h29.53v4.01h-29.53zM301.6 412.1h17.09v4.01h-17.09zM322.3 412.1h4.65v4.01h-4.65zM330.6 412.1h4.65v4.01h-4.65zM343.0 412.1h8.79v4.01h-8.79zM355.5 412.1h4.65v4.01h-4.65zM268.4 415.6h21.23v4.01h-21.23zM293.3 415.6h4.65v4.01h-4.65zM268.4 419.1h21.23v4.01h-21.23zM268.4 422.7h4.65v4.01h-4.65zM276.7 422.7h4.65v4.01h-4.65z"/>
<path fill="#def03c" d="M297.4 366.5h4.65v4.01h-4.65zM318.2 366.5h4.65v4.01h-4.65zM326.5 366.5h4.65v4.01h-4.65zM338.9 366.5h8.79v4.01h-8.79zM359.6 366.5h4.65v4.01h-4.65zM367.9 366.5h4.65v4.01h-4.65zM276.7 370.0h8.79v4.01h-8.79zM289.1 370.0h8.79v4.01h-8.79zM305.7 370.0h4.65v4.01h-4.65zM322.3 370.0h4.65v4.01h-4.65zM351.3 370.0h12.94v4.01h-12.94zM272.5 373.5h4.65v4.01h-4.65zM280.8 373.5h8.79v4.01h-8.79zM297.4 373.5h4.65v4.01h-4.65zM309.9 373.5h4.65v4.01h-4.65zM318.2 373.5h4.65v4.01h-4.65zM330.6 373.5h4.65v4.01h-4.65zM347.2 373.5h12.94v4.01h-12.94zM363.8 373.5h4.65v4.01h-4.65zM280.8 377.0h8.79v4.01h-8.79zM297.4 377.0h4.65v4.01h-4.65zM314.0 377.0h4.65v4.01h-4.65zM322.3 377.0h8.79v4.01h-8.79zM338.9 377.0h4.65v4.01h-4.65zM351.3 377.0h21.23v4.01h-21.23zM280.8 380.5h8.79v4.01h-8.79zM297.4 380.5h8.79v4.01h-8.79zM314.0 380.5h12.94v4.01h-12.94zM330.6 380.5h8.79v4.01h-8.79zM343.0 380.5h4.65v4.01h-4.65zM363.8 380.5h8.79v4.01h-8.79zM272.5 384.0h4.65v4.01h-4.65zM280.8 384.0h8.79v4.01h-8.79zM301.6 384.0h8.79v4.01h-8.79zM314.0 384.0h21.23v4.01h-21.23zM347.2 384.0h12.94v4.01h-12.94zM363.8 384.0h4.65v4.01h-4.65zM276.7 387.5h4.65v4.01h-4.65zM314.0 387.5h4.65v4.01h-4.65zM322.3 387.5h8.79v4.01h-8.79zM338.9 387.5h4.65v4.01h-4.65zM351.3 387.5h4.65v4.01h-4.65zM363.8 387.5h8.79v4.01h-8.79zM272.5 391.0h4.65v4.01h-4.65zM301.6 391.0h4.65v4.01h-4.65zM318.2 391.0h4.65v4.01h-4.65zM334.8 391.0h4.65v4.01h-4.65zM359.6 391.0h12.94v4.01h-12.94zM301.6 394.6h4.65v4.01h-4.65zM318.2 394.6h4.65v4.01h-4.65zM334.8 394.6h4.65v4.01h-4.65zM355.5 394.6h12.94v4.01h-12.94zM272.5 398.1h4.65v4.01h-4.65zM309.9 398.1h4.65v4.01h-4.65zM318.2 398.1h29.53v4.01h-29.53zM351.3 398.1h4.65v4.01h-4.65zM363.8 398.1h4.65v4.01h-4.65zM272.5 401.6h4.65v4.01h-4.65zM301.6 401.6h4.65v4.01h-4.65zM309.9 401.6h4.65v4.01h-4.65zM322.3 401.6h4.65v4.01h-4.65zM330.6 401.6h4.65v4.01h-4.65zM338.9 401.6h4.65v4.01h-4.65zM276.7 405.1h4.65v4.01h-4.65zM322.3 405.1h8.79v4.01h-8.79zM338.9 405.1h4.65v4.01h-4.65zM359.6 405.1h4.65v4.01h-4.65zM297.4 408.6h4.65v4.01h-4.65zM334.8 408.6h4.65v4.01h-4.65zM359.6 408.6h4.65v4.01h-4.65z"/>
<path fill="#d4ee3c" d="M359.6 384.0h4.65v4.01h-4.65zM280.8 387.5h12.94v4.01h-12.94zM355.5 387.5h8.79v4.01h-8.79zM276.7 391.0h4.65v4.01h-4.65zM289.1 391.0h8.79v4.01h-8.79zM276.7 394.6h4.65v4.01h-4.65zM293.3 394.6h4.65v4.01h-4.65zM276.7 398.1h4.65v4.01h-4.65zM293.3 398.1h8.79v4.01h-8.79zM276.7 401.6h8.79v4.01h-8.79zM289.1 401.6h8.79v4.01h-8.79zM280.8 405.1h12.94v4.01h-12.94z"/>
<path fill="#bde73c" d="M280.8 391.0h8.79v4.01h-8.79zM280.8 394.6h12.94v4.01h-12.94zM280.8 398.1h4.65v4.01h-4.65zM289.1 398.1h4.65v4.01h-4.65zM285.0 401.6h4.65v4.01h-4.65z"/>
<path fill="#7ad55c" d="M285.0 398.1h4.65v4.01h-4.65z"/>
<rect x="265.00" y="342.60" width="124.00" height="106.70" fill="none" stroke="#111" stroke-width="1.50"/>
<g stroke="#999" stroke-width="0.45"><line x1="264.20" y1="449.30" x2="264.20" y2="451.50"/><line x1="299.80" y1="449.30" x2="299.80" y2="451.50"/><line x1="335.50" y1="449.30" x2="335.50" y2="451.50"/><line x1="371.10" y1="449.30" x2="371.10" y2="451.50"/><line x1="262.80" y1="358.90" x2="265.00" y2="358.90"/><line x1="262.80" y1="389.30" x2="265.00" y2="389.30"/><line x1="262.80" y1="419.70" x2="265.00" y2="419.70"/><line x1="262.80" y1="450.10" x2="265.00" y2="450.10"/></g>
<text x="264.20" y="459.00" font-size="9.10" text-anchor="middle" font-weight="normal" fill="#505050">0</text>
<text x="299.80" y="459.00" font-size="9.10" text-anchor="middle" font-weight="normal" fill="#505050">2</text>
<text x="335.50" y="459.00" font-size="9.10" text-anchor="middle" font-weight="normal" fill="#505050">4</text>
<text x="371.10" y="459.00" font-size="9.10" text-anchor="middle" font-weight="normal" fill="#505050">6</text>
<text x="261.80" y="362.10" font-size="9.10" text-anchor="end" font-weight="normal" fill="#505050">8</text>
<text x="261.80" y="392.50" font-size="9.10" text-anchor="end" font-weight="normal" fill="#505050">6</text>
<text x="261.80" y="422.90" font-size="9.10" text-anchor="end" font-weight="normal" fill="#505050">4</text>
<text x="261.80" y="453.30" font-size="9.10" text-anchor="end" font-weight="normal" fill="#505050">2</text>
<text x="249.60" y="332.40" font-size="11.40" text-anchor="start" font-weight="normal" fill="#1a1a1a">H</text>
<text x="326.20" y="472.60" font-size="9.30" text-anchor="middle" font-weight="bold" fill="#111">LAI&#160; m<tspan font-size="6.4" dy="-4.4">2</tspan><tspan dy="4.4"> m</tspan><tspan font-size="6.4" dy="-4.4">-2</tspan></text>
<text x="251.30" y="396.60" font-size="9.30" text-anchor="middle" font-weight="bold" fill="#111" transform="rotate(-90 251.30 396.60)">Log(SOC) tons&#160; ha<tspan font-size="6.4" dy="-4.4">-1</tspan></text>
<text x="396.40" y="378.50" font-size="9.30" text-anchor="start" font-weight="normal" fill="#1a1a1a">Nr of locations</text>
<rect x="396.30" y="382.20" width="7.70" height="39.50" fill="url(#vir)"/>
<g stroke="#fff" stroke-width="0.5" opacity="0.8"><line x1="396.30" y1="388.30" x2="397.90" y2="388.30"/><line x1="402.40" y1="388.30" x2="404.00" y2="388.30"/><line x1="396.30" y1="399.60" x2="397.90" y2="399.60"/><line x1="402.40" y1="399.60" x2="404.00" y2="399.60"/><line x1="396.30" y1="410.90" x2="397.90" y2="410.90"/><line x1="402.40" y1="410.90" x2="404.00" y2="410.90"/><line x1="396.30" y1="422.20" x2="397.90" y2="422.20"/><line x1="402.40" y1="422.20" x2="404.00" y2="422.20"/></g>
<text x="407.00" y="391.60" font-size="9.30" text-anchor="start" font-weight="normal" fill="#1a1a1a">600</text>
<text x="407.00" y="402.90" font-size="9.30" text-anchor="start" font-weight="normal" fill="#1a1a1a">400</text>
<text x="407.00" y="414.20" font-size="9.30" text-anchor="start" font-weight="normal" fill="#1a1a1a">200</text>
<text x="407.00" y="425.50" font-size="9.30" text-anchor="start" font-weight="normal" fill="#1a1a1a">0</text>
<g stroke="#f3f3f3" stroke-width="0.5"><line x1="505.80" y1="342.60" x2="505.80" y2="449.20"/><line x1="525.30" y1="342.60" x2="525.30" y2="449.20"/><line x1="544.80" y1="342.60" x2="544.80" y2="449.20"/><line x1="564.30" y1="342.60" x2="564.30" y2="449.20"/><line x1="583.80" y1="342.60" x2="583.80" y2="449.20"/><line x1="603.30" y1="342.60" x2="603.30" y2="449.20"/><line x1="622.80" y1="342.60" x2="622.80" y2="449.20"/><line x1="486.80" y1="343.70" x2="623.90" y2="343.70"/><line x1="486.80" y1="358.90" x2="623.90" y2="358.90"/><line x1="486.80" y1="374.10" x2="623.90" y2="374.10"/><line x1="486.80" y1="389.30" x2="623.90" y2="389.30"/><line x1="486.80" y1="404.50" x2="623.90" y2="404.50"/><line x1="486.80" y1="419.70" x2="623.90" y2="419.70"/><line x1="486.80" y1="434.90" x2="623.90" y2="434.90"/></g>
<path fill="#e3e3e3" d="M522.7 352.2h5.04v4.05h-5.04zM568.1 352.2h5.04v4.05h-5.04zM586.3 352.2h5.04v4.05h-5.04zM595.4 352.2h5.04v4.05h-5.04zM504.5 355.7h9.59v4.05h-9.59zM518.2 355.7h18.68v4.05h-18.68zM540.9 355.7h59.57v4.05h-59.57zM504.5 359.3h105.01v4.05h-105.01zM495.4 362.8h109.56v4.05h-109.56zM613.6 362.8h5.04v4.05h-5.04zM490.9 366.4h114.10v4.05h-114.10zM490.9 369.9h118.64v4.05h-118.64zM490.9 373.5h118.64v4.05h-118.64zM613.6 373.5h5.04v4.05h-5.04zM490.9 377.0h118.64v4.05h-118.64zM613.6 377.0h5.04v4.05h-5.04zM490.9 380.6h118.64v4.05h-118.64zM490.9 384.1h118.64v4.05h-118.64zM490.9 387.7h118.64v4.05h-118.64zM613.6 387.7h5.04v4.05h-5.04zM490.9 391.2h127.73v4.05h-127.73zM490.9 394.8h127.73v4.05h-127.73zM490.9 398.3h118.64v4.05h-118.64zM490.9 401.9h118.64v4.05h-118.64zM490.9 405.4h114.10v4.05h-114.10zM490.9 409.0h114.10v4.05h-114.10zM490.9 412.5h109.56v4.05h-109.56zM490.9 416.1h41.40v4.05h-41.40zM581.8 416.1h9.59v4.05h-9.59zM490.9 419.6h45.94v4.05h-45.94zM586.3 419.6h5.04v4.05h-5.04zM490.9 423.2h27.76v4.05h-27.76zM490.9 426.7h23.22v4.05h-23.22zM490.9 430.3h18.68v4.05h-18.68zM490.9 433.8h18.68v4.05h-18.68zM490.9 437.4h9.59v4.05h-9.59zM495.4 440.9h5.04v4.05h-5.04zM490.9 444.4h5.04v4.05h-5.04z"/>
<path fill="#ecf43c" d="M556.3 350.7h4.31v3.53h-4.31zM590.6 353.8h4.31v3.53h-4.31zM522.0 356.8h4.31v3.53h-4.31zM537.2 356.8h4.31v3.53h-4.31zM560.1 356.8h4.31v3.53h-4.31zM567.7 356.8h4.31v3.53h-4.31zM579.1 356.8h15.74v3.53h-15.74zM514.4 359.8h8.12v3.53h-8.12zM525.8 359.8h8.12v3.53h-8.12zM537.2 359.8h8.12v3.53h-8.12zM548.7 359.8h15.74v3.53h-15.74zM575.3 359.8h15.74v3.53h-15.74zM594.4 359.8h8.12v3.53h-8.12zM487.7 362.9h8.12v3.53h-8.12zM502.9 362.9h19.55v3.53h-19.55zM525.8 362.9h15.74v3.53h-15.74zM544.9 362.9h8.12v3.53h-8.12zM567.7 362.9h11.93v3.53h-11.93zM583.0 362.9h19.55v3.53h-19.55zM487.7 365.9h11.93v3.53h-11.93zM506.8 365.9h19.55v3.53h-19.55zM533.4 365.9h11.93v3.53h-11.93zM560.1 365.9h4.31v3.53h-4.31zM575.3 365.9h8.12v3.53h-8.12zM586.8 365.9h8.12v3.53h-8.12zM598.2 365.9h4.31v3.53h-4.31zM487.7 368.9h4.31v3.53h-4.31zM499.1 368.9h4.31v3.53h-4.31zM506.8 368.9h8.12v3.53h-8.12zM518.2 368.9h8.12v3.53h-8.12zM533.4 368.9h19.55v3.53h-19.55zM556.3 368.9h4.31v3.53h-4.31zM563.9 368.9h8.12v3.53h-8.12zM598.2 368.9h4.31v3.53h-4.31zM487.7 371.9h4.31v3.53h-4.31zM506.8 371.9h11.93v3.53h-11.93zM522.0 371.9h4.31v3.53h-4.31zM533.4 371.9h8.12v3.53h-8.12zM552.5 371.9h4.31v3.53h-4.31zM563.9 371.9h4.31v3.53h-4.31zM575.3 371.9h4.31v3.53h-4.31zM590.6 371.9h8.12v3.53h-8.12zM602.0 371.9h8.12v3.53h-8.12zM499.1 375.0h11.93v3.53h-11.93zM518.2 375.0h4.31v3.53h-4.31zM525.8 375.0h4.31v3.53h-4.31zM533.4 375.0h4.31v3.53h-4.31zM544.9 375.0h4.31v3.53h-4.31zM560.1 375.0h4.31v3.53h-4.31zM571.5 375.0h4.31v3.53h-4.31zM579.1 375.0h4.31v3.53h-4.31zM605.8 375.0h4.31v3.53h-4.31zM487.7 378.0h4.31v3.53h-4.31zM495.3 378.0h11.93v3.53h-11.93zM518.2 378.0h11.93v3.53h-11.93zM537.2 378.0h4.31v3.53h-4.31zM548.7 378.0h8.12v3.53h-8.12zM560.1 378.0h8.12v3.53h-8.12zM579.1 378.0h4.31v3.53h-4.31zM598.2 378.0h4.31v3.53h-4.31zM487.7 381.0h4.31v3.53h-4.31zM495.3 381.0h15.74v3.53h-15.74zM518.2 381.0h8.12v3.53h-8.12zM552.5 381.0h4.31v3.53h-4.31zM560.1 381.0h11.93v3.53h-11.93zM575.3 381.0h4.31v3.53h-4.31zM491.5 384.1h11.93v3.53h-11.93zM506.8 384.1h8.12v3.53h-8.12zM522.0 384.1h4.31v3.53h-4.31zM533.4 384.1h11.93v3.53h-11.93zM548.7 384.1h15.74v3.53h-15.74zM567.7 384.1h4.31v3.53h-4.31zM575.3 384.1h4.31v3.53h-4.31zM598.2 384.1h8.12v3.53h-8.12zM487.7 387.1h4.31v3.53h-4.31zM518.2 387.1h4.31v3.53h-4.31zM529.6 387.1h8.12v3.53h-8.12zM541.0 387.1h4.31v3.53h-4.31zM552.5 387.1h4.31v3.53h-4.31zM487.7 390.1h11.93v3.53h-11.93zM510.6 390.1h4.31v3.53h-4.31zM537.2 390.1h4.31v3.53h-4.31zM548.7 390.1h4.31v3.53h-4.31zM560.1 390.1h8.12v3.53h-8.12zM491.5 393.2h4.31v3.53h-4.31zM499.1 393.2h4.31v3.53h-4.31zM548.7 393.2h8.12v3.53h-8.12zM602.0 393.2h11.93v3.53h-11.93zM487.7 396.2h4.31v3.53h-4.31zM495.3 396.2h8.12v3.53h-8.12zM560.1 396.2h8.12v3.53h-8.12zM571.5 396.2h4.31v3.53h-4.31zM487.7 399.2h4.31v3.53h-4.31zM541.0 399.2h4.31v3.53h-4.31zM548.7 399.2h8.12v3.53h-8.12zM560.1 399.2h15.74v3.53h-15.74zM590.6 399.2h4.31v3.53h-4.31zM605.8 399.2h4.31v3.53h-4.31zM487.7 402.2h8.12v3.53h-8.12zM502.9 402.2h4.31v3.53h-4.31zM514.4 402.2h19.55v3.53h-19.55zM556.3 402.2h19.55v3.53h-19.55zM583.0 402.2h8.12v3.53h-8.12zM598.2 402.2h8.12v3.53h-8.12zM487.7 405.3h4.31v3.53h-4.31zM502.9 405.3h4.31v3.53h-4.31zM510.6 405.3h8.12v3.53h-8.12zM522.0 405.3h4.31v3.53h-4.31zM533.4 405.3h11.93v3.53h-11.93zM552.5 405.3h11.93v3.53h-11.93zM575.3 405.3h4.31v3.53h-4.31zM586.8 405.3h15.74v3.53h-15.74zM487.7 408.3h11.93v3.53h-11.93zM506.8 408.3h4.31v3.53h-4.31zM514.4 408.3h4.31v3.53h-4.31zM529.6 408.3h8.12v3.53h-8.12zM586.8 408.3h4.31v3.53h-4.31zM594.4 408.3h4.31v3.53h-4.31zM491.5 411.3h8.12v3.53h-8.12zM502.9 411.3h8.12v3.53h-8.12zM514.4 411.3h11.93v3.53h-11.93zM537.2 411.3h4.31v3.53h-4.31zM567.7 411.3h4.31v3.53h-4.31zM579.1 411.3h8.12v3.53h-8.12zM590.6 411.3h4.31v3.53h-4.31zM491.5 414.4h8.12v3.53h-8.12zM506.8 414.4h8.12v3.53h-8.12zM487.7 417.4h8.12v3.53h-8.12zM502.9 417.4h4.31v3.53h-4.31zM510.6 417.4h4.31v3.53h-4.31zM491.5 420.4h11.93v3.53h-11.93zM495.3 423.5h4.31v3.53h-4.31zM487.7 426.5h8.12v3.53h-8.12zM487.7 432.6h4.31v3.53h-4.31z"/>
<path fill="#bde73c" d="M563.9 353.8h4.31v3.53h-4.31zM563.9 356.8h4.31v3.53h-4.31zM571.5 356.8h4.31v3.53h-4.31zM594.4 356.8h4.31v3.53h-4.31zM495.3 359.8h4.31v3.53h-4.31zM506.8 359.8h4.31v3.53h-4.31zM544.9 359.8h4.31v3.53h-4.31zM563.9 359.8h11.93v3.53h-11.93zM590.6 359.8h4.31v3.53h-4.31zM499.1 362.9h4.31v3.53h-4.31zM522.0 362.9h4.31v3.53h-4.31zM541.0 362.9h4.31v3.53h-4.31zM552.5 362.9h15.74v3.53h-15.74zM579.1 362.9h4.31v3.53h-4.31zM602.0 362.9h4.31v3.53h-4.31zM499.1 365.9h8.12v3.53h-8.12zM525.8 365.9h8.12v3.53h-8.12zM544.9 365.9h15.74v3.53h-15.74zM563.9 365.9h11.93v3.53h-11.93zM583.0 365.9h4.31v3.53h-4.31zM594.4 365.9h4.31v3.53h-4.31zM602.0 365.9h8.12v3.53h-8.12zM491.5 368.9h8.12v3.53h-8.12zM502.9 368.9h4.31v3.53h-4.31zM514.4 368.9h4.31v3.53h-4.31zM525.8 368.9h8.12v3.53h-8.12zM552.5 368.9h4.31v3.53h-4.31zM560.1 368.9h4.31v3.53h-4.31zM571.5 368.9h27.17v3.53h-27.17zM602.0 368.9h8.12v3.53h-8.12zM491.5 371.9h8.12v3.53h-8.12zM502.9 371.9h4.31v3.53h-4.31zM518.2 371.9h4.31v3.53h-4.31zM525.8 371.9h4.31v3.53h-4.31zM541.0 371.9h11.93v3.53h-11.93zM556.3 371.9h8.12v3.53h-8.12zM571.5 371.9h4.31v3.53h-4.31zM579.1 371.9h11.93v3.53h-11.93zM598.2 371.9h4.31v3.53h-4.31zM487.7 375.0h11.93v3.53h-11.93zM510.6 375.0h8.12v3.53h-8.12zM522.0 375.0h4.31v3.53h-4.31zM529.6 375.0h4.31v3.53h-4.31zM537.2 375.0h8.12v3.53h-8.12zM548.7 375.0h11.93v3.53h-11.93zM567.7 375.0h4.31v3.53h-4.31zM586.8 375.0h19.55v3.53h-19.55zM491.5 378.0h4.31v3.53h-4.31zM506.8 378.0h11.93v3.53h-11.93zM529.6 378.0h4.31v3.53h-4.31zM544.9 378.0h4.31v3.53h-4.31zM567.7 378.0h8.12v3.53h-8.12zM594.4 378.0h4.31v3.53h-4.31zM602.0 378.0h8.12v3.53h-8.12zM491.5 381.0h4.31v3.53h-4.31zM510.6 381.0h8.12v3.53h-8.12zM525.8 381.0h8.12v3.53h-8.12zM537.2 381.0h8.12v3.53h-8.12zM556.3 381.0h4.31v3.53h-4.31zM590.6 381.0h4.31v3.53h-4.31zM602.0 381.0h8.12v3.53h-8.12zM487.7 384.1h4.31v3.53h-4.31zM502.9 384.1h4.31v3.53h-4.31zM514.4 384.1h8.12v3.53h-8.12zM525.8 384.1h8.12v3.53h-8.12zM544.9 384.1h4.31v3.53h-4.31zM563.9 384.1h4.31v3.53h-4.31zM571.5 384.1h4.31v3.53h-4.31zM586.8 384.1h4.31v3.53h-4.31zM594.4 384.1h4.31v3.53h-4.31zM605.8 384.1h4.31v3.53h-4.31zM491.5 387.1h15.74v3.53h-15.74zM510.6 387.1h8.12v3.53h-8.12zM522.0 387.1h4.31v3.53h-4.31zM544.9 387.1h4.31v3.53h-4.31zM556.3 387.1h4.31v3.53h-4.31zM563.9 387.1h8.12v3.53h-8.12zM575.3 387.1h4.31v3.53h-4.31zM598.2 387.1h11.93v3.53h-11.93zM514.4 390.1h8.12v3.53h-8.12zM525.8 390.1h11.93v3.53h-11.93zM544.9 390.1h4.31v3.53h-4.31zM567.7 390.1h15.74v3.53h-15.74zM590.6 390.1h8.12v3.53h-8.12zM487.7 393.2h4.31v3.53h-4.31zM495.3 393.2h4.31v3.53h-4.31zM502.9 393.2h4.31v3.53h-4.31zM514.4 393.2h34.79v3.53h-34.79zM556.3 393.2h27.17v3.53h-27.17zM594.4 393.2h8.12v3.53h-8.12zM491.5 396.2h4.31v3.53h-4.31zM514.4 396.2h4.31v3.53h-4.31zM522.0 396.2h11.93v3.53h-11.93zM537.2 396.2h11.93v3.53h-11.93zM552.5 396.2h8.12v3.53h-8.12zM567.7 396.2h4.31v3.53h-4.31zM586.8 396.2h4.31v3.53h-4.31zM598.2 396.2h8.12v3.53h-8.12zM491.5 399.2h4.31v3.53h-4.31zM499.1 399.2h8.12v3.53h-8.12zM522.0 399.2h19.55v3.53h-19.55zM544.9 399.2h4.31v3.53h-4.31zM556.3 399.2h4.31v3.53h-4.31zM575.3 399.2h15.74v3.53h-15.74zM598.2 399.2h8.12v3.53h-8.12zM495.3 402.2h4.31v3.53h-4.31zM533.4 402.2h15.74v3.53h-15.74zM552.5 402.2h4.31v3.53h-4.31zM575.3 402.2h8.12v3.53h-8.12zM590.6 402.2h8.12v3.53h-8.12zM491.5 405.3h11.93v3.53h-11.93zM506.8 405.3h4.31v3.53h-4.31zM518.2 405.3h4.31v3.53h-4.31zM525.8 405.3h8.12v3.53h-8.12zM544.9 405.3h8.12v3.53h-8.12zM579.1 405.3h8.12v3.53h-8.12zM499.1 408.3h8.12v3.53h-8.12zM518.2 408.3h11.93v3.53h-11.93zM537.2 408.3h8.12v3.53h-8.12zM552.5 408.3h8.12v3.53h-8.12zM575.3 408.3h11.93v3.53h-11.93zM590.6 408.3h4.31v3.53h-4.31zM487.7 411.3h4.31v3.53h-4.31zM510.6 411.3h4.31v3.53h-4.31zM525.8 411.3h8.12v3.53h-8.12zM560.1 411.3h8.12v3.53h-8.12zM586.8 411.3h4.31v3.53h-4.31zM487.7 414.4h4.31v3.53h-4.31zM499.1 414.4h8.12v3.53h-8.12zM541.0 414.4h4.31v3.53h-4.31zM495.3 417.4h8.12v3.53h-8.12zM487.7 420.4h4.31v3.53h-4.31zM506.8 420.4h4.31v3.53h-4.31zM487.7 423.5h4.31v3.53h-4.31zM487.7 429.5h4.31v3.53h-4.31z"/>
<path fill="#7ad55c" d="M499.1 371.9h4.31v3.53h-4.31zM529.6 371.9h4.31v3.53h-4.31zM567.7 371.9h4.31v3.53h-4.31zM563.9 375.0h4.31v3.53h-4.31zM583.0 375.0h4.31v3.53h-4.31zM533.4 378.0h4.31v3.53h-4.31zM541.0 378.0h4.31v3.53h-4.31zM556.3 378.0h4.31v3.53h-4.31zM575.3 378.0h4.31v3.53h-4.31zM583.0 378.0h4.31v3.53h-4.31zM590.6 378.0h4.31v3.53h-4.31zM533.4 381.0h4.31v3.53h-4.31zM544.9 381.0h8.12v3.53h-8.12zM571.5 381.0h4.31v3.53h-4.31zM586.8 381.0h4.31v3.53h-4.31zM594.4 381.0h8.12v3.53h-8.12zM579.1 384.1h8.12v3.53h-8.12zM506.8 387.1h4.31v3.53h-4.31zM525.8 387.1h4.31v3.53h-4.31zM537.2 387.1h4.31v3.53h-4.31zM560.1 387.1h4.31v3.53h-4.31zM579.1 387.1h8.12v3.53h-8.12zM590.6 387.1h4.31v3.53h-4.31zM502.9 390.1h8.12v3.53h-8.12zM522.0 390.1h4.31v3.53h-4.31zM541.0 390.1h4.31v3.53h-4.31zM552.5 390.1h8.12v3.53h-8.12zM602.0 390.1h8.12v3.53h-8.12zM506.8 393.2h8.12v3.53h-8.12zM583.0 393.2h4.31v3.53h-4.31zM590.6 393.2h4.31v3.53h-4.31zM510.6 396.2h4.31v3.53h-4.31zM533.4 396.2h4.31v3.53h-4.31zM548.7 396.2h4.31v3.53h-4.31zM579.1 396.2h8.12v3.53h-8.12zM594.4 396.2h4.31v3.53h-4.31zM605.8 396.2h4.31v3.53h-4.31zM495.3 399.2h4.31v3.53h-4.31zM518.2 399.2h4.31v3.53h-4.31zM594.4 399.2h4.31v3.53h-4.31zM499.1 402.2h4.31v3.53h-4.31zM506.8 402.2h8.12v3.53h-8.12zM548.7 402.2h4.31v3.53h-4.31zM510.6 408.3h4.31v3.53h-4.31zM548.7 408.3h4.31v3.53h-4.31zM499.1 411.3h4.31v3.53h-4.31zM506.8 417.4h4.31v3.53h-4.31z"/>
<path fill="#48c07c" d="M575.3 375.0h4.31v3.53h-4.31zM590.6 384.1h4.31v3.53h-4.31zM548.7 387.1h4.31v3.53h-4.31zM586.8 387.1h4.31v3.53h-4.31zM499.1 390.1h4.31v3.53h-4.31zM586.8 390.1h4.31v3.53h-4.31zM598.2 390.1h4.31v3.53h-4.31zM586.8 393.2h4.31v3.53h-4.31zM590.6 396.2h4.31v3.53h-4.31zM510.6 399.2h8.12v3.53h-8.12z"/>
<path fill="#2f6c8e" d="M586.8 378.0h4.31v3.53h-4.31zM579.1 381.0h4.31v3.53h-4.31zM506.8 399.2h4.31v3.53h-4.31z"/>
<path fill="#27888e" d="M583.0 381.0h4.31v3.53h-4.31zM502.9 396.2h4.31v3.53h-4.31zM518.2 396.2h4.31v3.53h-4.31z"/>
<path fill="#3c4f8b" d="M571.5 387.1h4.31v3.53h-4.31z"/>
<path fill="#460b5e" d="M594.4 387.1h4.31v3.53h-4.31z"/>
<path fill="#2aa48a" d="M583.0 390.1h4.31v3.53h-4.31zM506.8 396.2h4.31v3.53h-4.31z"/>
<path fill="#46307c" d="M575.3 396.2h4.31v3.53h-4.31z"/>
<rect x="486.80" y="342.60" width="137.10" height="106.60" fill="none" stroke="#111" stroke-width="1.50"/>
<g stroke="#999" stroke-width="0.45"><line x1="486.30" y1="449.20" x2="486.30" y2="451.40"/><line x1="525.30" y1="449.20" x2="525.30" y2="451.40"/><line x1="564.30" y1="449.20" x2="564.30" y2="451.40"/><line x1="603.30" y1="449.20" x2="603.30" y2="451.40"/><line x1="484.60" y1="358.90" x2="486.80" y2="358.90"/><line x1="484.60" y1="389.30" x2="486.80" y2="389.30"/><line x1="484.60" y1="419.70" x2="486.80" y2="419.70"/><line x1="484.60" y1="450.10" x2="486.80" y2="450.10"/></g>
<text x="486.30" y="459.20" font-size="9.10" text-anchor="middle" font-weight="normal" fill="#505050">0</text>
<text x="525.30" y="459.20" font-size="9.10" text-anchor="middle" font-weight="normal" fill="#505050">2</text>
<text x="564.30" y="459.20" font-size="9.10" text-anchor="middle" font-weight="normal" fill="#505050">4</text>
<text x="603.30" y="459.20" font-size="9.10" text-anchor="middle" font-weight="normal" fill="#505050">6</text>
<text x="484.40" y="362.10" font-size="9.10" text-anchor="end" font-weight="normal" fill="#505050">8</text>
<text x="484.40" y="392.50" font-size="9.10" text-anchor="end" font-weight="normal" fill="#505050">6</text>
<text x="484.40" y="422.90" font-size="9.10" text-anchor="end" font-weight="normal" fill="#505050">4</text>
<text x="484.40" y="453.30" font-size="9.10" text-anchor="end" font-weight="normal" fill="#505050">2</text>
<text x="466.70" y="336.00" font-size="11.40" text-anchor="start" font-weight="normal" fill="#1a1a1a">I</text>
<text x="554.40" y="472.60" font-size="9.30" text-anchor="middle" font-weight="bold" fill="#111">LAI&#160; m<tspan font-size="6.4" dy="-4.4">2</tspan><tspan dy="4.4"> m</tspan><tspan font-size="6.4" dy="-4.4">-2</tspan></text>
<text x="473.20" y="396.80" font-size="9.30" text-anchor="middle" font-weight="bold" fill="#111" transform="rotate(-90 473.20 396.80)">Log(SOC) tons&#160; ha<tspan font-size="6.4" dy="-4.4">-1</tspan></text>
<text x="631.20" y="378.30" font-size="9.30" text-anchor="start" font-weight="normal" fill="#1a1a1a">Nr of pixels</text>
<rect x="631.20" y="382.20" width="7.80" height="39.80" fill="url(#vir)"/>
<g stroke="#fff" stroke-width="0.5" opacity="0.8"><line x1="631.20" y1="392.40" x2="632.80" y2="392.40"/><line x1="637.40" y1="392.40" x2="639.00" y2="392.40"/><line x1="631.20" y1="402.30" x2="632.80" y2="402.30"/><line x1="637.40" y1="402.30" x2="639.00" y2="402.30"/><line x1="631.20" y1="412.30" x2="632.80" y2="412.30"/><line x1="637.40" y1="412.30" x2="639.00" y2="412.30"/></g>
<text x="641.90" y="395.70" font-size="9.30" text-anchor="start" font-weight="normal" fill="#1a1a1a">1500</text>
<text x="641.90" y="405.60" font-size="9.30" text-anchor="start" font-weight="normal" fill="#1a1a1a">1000</text>
<text x="641.90" y="415.60" font-size="9.30" text-anchor="start" font-weight="normal" fill="#1a1a1a">500</text>
<g stroke="#f3f3f3" stroke-width="0.5"><line x1="43.80" y1="492.60" x2="43.80" y2="605.90"/><line x1="64.58" y1="492.60" x2="64.58" y2="605.90"/><line x1="85.37" y1="492.60" x2="85.37" y2="605.90"/><line x1="106.15" y1="492.60" x2="106.15" y2="605.90"/><line x1="126.93" y1="492.60" x2="126.93" y2="605.90"/><line x1="147.72" y1="492.60" x2="147.72" y2="605.90"/><line x1="168.50" y1="492.60" x2="168.50" y2="605.90"/><line x1="38.30" y1="501.35" x2="173.60" y2="501.35"/><line x1="38.30" y1="515.60" x2="173.60" y2="515.60"/><line x1="38.30" y1="529.85" x2="173.60" y2="529.85"/><line x1="38.30" y1="544.10" x2="173.60" y2="544.10"/><line x1="38.30" y1="558.35" x2="173.60" y2="558.35"/><line x1="38.30" y1="572.60" x2="173.60" y2="572.60"/><line x1="38.30" y1="586.85" x2="173.60" y2="586.85"/><line x1="38.30" y1="601.10" x2="173.60" y2="601.10"/></g>
<path fill="#ecf43c" d="M64.7 508.3h8.76v4.06h-8.76zM93.6 508.3h4.63v4.06h-4.63zM52.3 511.9h8.76v4.06h-8.76zM64.7 511.9h45.93v4.06h-45.93zM60.6 515.4h58.32v4.06h-58.32zM122.5 515.4h4.63v4.06h-4.63zM139.1 515.4h4.63v4.06h-4.63zM52.3 519.0h4.63v4.06h-4.63zM60.6 519.0h8.76v4.06h-8.76zM81.2 519.0h4.63v4.06h-4.63zM106.0 519.0h25.28v4.06h-25.28zM134.9 519.0h4.63v4.06h-4.63zM60.6 522.5h4.63v4.06h-4.63zM118.4 522.5h29.41v4.06h-29.41zM155.6 522.5h4.63v4.06h-4.63zM56.5 526.1h8.76v4.06h-8.76zM134.9 526.1h29.41v4.06h-29.41zM52.3 529.6h12.89v4.06h-12.89zM118.4 529.6h17.02v4.06h-17.02zM52.3 533.2h12.89v4.06h-12.89zM106.0 533.2h21.15v4.06h-21.15zM52.3 536.7h8.76v4.06h-8.76zM85.4 536.7h54.19v4.06h-54.19zM52.3 540.3h8.76v4.06h-8.76zM85.4 540.3h29.41v4.06h-29.41zM118.4 540.3h4.63v4.06h-4.63zM126.7 540.3h4.63v4.06h-4.63zM52.3 543.9h4.63v4.06h-4.63zM85.4 543.9h33.54v4.06h-33.54zM122.5 543.9h4.63v4.06h-4.63zM52.3 547.4h4.63v4.06h-4.63zM85.4 547.4h37.67v4.06h-37.67zM85.4 551.0h45.93v4.06h-45.93zM48.2 554.5h8.76v4.06h-8.76zM106.0 554.5h25.28v4.06h-25.28zM48.2 558.1h8.76v4.06h-8.76zM106.0 558.1h29.41v4.06h-29.41zM139.1 558.1h8.76v4.06h-8.76zM85.4 561.6h45.93v4.06h-45.93zM81.2 565.2h37.67v4.06h-37.67zM122.5 565.2h4.63v4.06h-4.63zM130.8 565.2h4.63v4.06h-4.63zM97.8 568.8h29.41v4.06h-29.41zM130.8 568.8h4.63v4.06h-4.63zM85.4 572.3h33.54v4.06h-33.54zM77.1 575.9h58.32v4.06h-58.32zM73.0 579.4h50.06v4.06h-50.06zM85.4 583.0h45.93v4.06h-45.93zM56.5 586.5h12.89v4.06h-12.89zM85.4 586.5h25.28v4.06h-25.28zM118.4 586.5h4.63v4.06h-4.63zM56.5 590.1h58.32v4.06h-58.32zM118.4 590.1h4.63v4.06h-4.63zM52.3 593.6h50.06v4.06h-50.06zM106.0 593.6h17.02v4.06h-17.02z"/>
<path fill="#d4ee3c" d="M68.8 519.0h4.63v4.06h-4.63zM77.1 519.0h4.63v4.06h-4.63zM85.4 519.0h21.15v4.06h-21.15zM64.7 522.5h8.76v4.06h-8.76zM77.1 522.5h41.80v4.06h-41.80zM64.7 526.1h4.63v4.06h-4.63zM81.2 526.1h54.19v4.06h-54.19zM64.7 529.6h4.63v4.06h-4.63zM81.2 529.6h37.67v4.06h-37.67zM64.7 533.2h4.63v4.06h-4.63zM81.2 533.2h25.28v4.06h-25.28zM60.6 536.7h4.63v4.06h-4.63zM81.2 536.7h4.63v4.06h-4.63zM85.4 554.5h21.15v4.06h-21.15zM85.4 558.1h21.15v4.06h-21.15zM81.2 568.8h17.02v4.06h-17.02zM64.7 583.0h21.15v4.06h-21.15zM68.8 586.5h17.02v4.06h-17.02z"/>
<path fill="#bde73c" d="M73.0 519.0h4.63v4.06h-4.63zM73.0 522.5h4.63v4.06h-4.63zM68.8 526.1h4.63v4.06h-4.63zM77.1 526.1h4.63v4.06h-4.63zM68.8 529.6h4.63v4.06h-4.63zM77.1 529.6h4.63v4.06h-4.63zM68.8 533.2h4.63v4.06h-4.63zM77.1 533.2h4.63v4.06h-4.63zM64.7 536.7h4.63v4.06h-4.63zM77.1 536.7h4.63v4.06h-4.63zM81.2 540.3h4.63v4.06h-4.63zM56.5 543.9h4.63v4.06h-4.63zM81.2 543.9h4.63v4.06h-4.63zM81.2 547.4h4.63v4.06h-4.63zM52.3 551.0h4.63v4.06h-4.63zM81.2 551.0h4.63v4.06h-4.63zM56.5 554.5h4.63v4.06h-4.63zM81.2 554.5h4.63v4.06h-4.63zM56.5 558.1h4.63v4.06h-4.63zM81.2 558.1h4.63v4.06h-4.63zM48.2 561.6h4.63v4.06h-4.63zM81.2 561.6h4.63v4.06h-4.63zM48.2 565.2h4.63v4.06h-4.63zM77.1 572.3h8.76v4.06h-8.76zM68.8 575.9h8.76v4.06h-8.76zM68.8 579.4h4.63v4.06h-4.63zM60.6 583.0h4.63v4.06h-4.63zM52.3 586.5h4.63v4.06h-4.63zM52.3 590.1h4.63v4.06h-4.63z"/>
<path fill="#7ad55c" d="M73.0 526.1h4.63v4.06h-4.63zM73.0 529.6h4.63v4.06h-4.63zM73.0 533.2h4.63v4.06h-4.63zM68.8 536.7h4.63v4.06h-4.63zM60.6 540.3h4.63v4.06h-4.63zM77.1 540.3h4.63v4.06h-4.63zM77.1 543.9h4.63v4.06h-4.63zM56.5 547.4h4.63v4.06h-4.63zM77.1 547.4h4.63v4.06h-4.63zM77.1 551.0h4.63v4.06h-4.63zM77.1 554.5h4.63v4.06h-4.63zM77.1 558.1h4.63v4.06h-4.63zM52.3 561.6h4.63v4.06h-4.63zM77.1 561.6h4.63v4.06h-4.63zM52.3 565.2h4.63v4.06h-4.63zM77.1 565.2h4.63v4.06h-4.63zM77.1 568.8h4.63v4.06h-4.63zM68.8 572.3h8.76v4.06h-8.76zM64.7 575.9h4.63v4.06h-4.63zM64.7 579.4h4.63v4.06h-4.63zM52.3 583.0h8.76v4.06h-8.76zM48.2 593.6h4.63v4.06h-4.63z"/>
<path fill="#48c07c" d="M73.0 536.7h4.63v4.06h-4.63zM60.6 543.9h4.63v4.06h-4.63zM73.0 543.9h4.63v4.06h-4.63zM73.0 547.4h4.63v4.06h-4.63zM56.5 551.0h4.63v4.06h-4.63zM73.0 551.0h4.63v4.06h-4.63zM73.0 554.5h4.63v4.06h-4.63zM73.0 558.1h4.63v4.06h-4.63zM56.5 561.6h4.63v4.06h-4.63zM73.0 561.6h4.63v4.06h-4.63zM56.5 565.2h4.63v4.06h-4.63zM73.0 565.2h4.63v4.06h-4.63zM48.2 568.8h8.76v4.06h-8.76zM68.8 568.8h8.76v4.06h-8.76zM52.3 575.9h4.63v4.06h-4.63zM52.3 579.4h4.63v4.06h-4.63zM48.2 590.1h4.63v4.06h-4.63z"/>
<path fill="#2aa48a" d="M64.7 540.3h4.63v4.06h-4.63zM73.0 540.3h4.63v4.06h-4.63zM60.6 547.4h4.63v4.06h-4.63zM68.8 561.6h4.63v4.06h-4.63zM68.8 565.2h4.63v4.06h-4.63zM52.3 572.3h4.63v4.06h-4.63zM64.7 572.3h4.63v4.06h-4.63zM60.6 579.4h4.63v4.06h-4.63zM48.2 586.5h4.63v4.06h-4.63z"/>
<path fill="#27888e" d="M68.8 540.3h4.63v4.06h-4.63zM68.8 547.4h4.63v4.06h-4.63zM60.6 551.0h4.63v4.06h-4.63zM68.8 551.0h4.63v4.06h-4.63zM60.6 554.5h4.63v4.06h-4.63zM68.8 554.5h4.63v4.06h-4.63zM68.8 558.1h4.63v4.06h-4.63zM64.7 565.2h4.63v4.06h-4.63zM56.5 568.8h4.63v4.06h-4.63zM64.7 568.8h4.63v4.06h-4.63zM48.2 572.3h4.63v4.06h-4.63zM56.5 572.3h4.63v4.06h-4.63zM48.2 575.9h4.63v4.06h-4.63zM56.5 575.9h8.76v4.06h-8.76zM48.2 579.4h4.63v4.06h-4.63zM56.5 579.4h4.63v4.06h-4.63zM48.2 583.0h4.63v4.06h-4.63z"/>
<path fill="#460b5e" d="M64.7 543.9h4.63v4.06h-4.63zM60.6 561.6h4.63v4.06h-4.63z"/>
<path fill="#2f6c8e" d="M68.8 543.9h4.63v4.06h-4.63zM64.7 551.0h4.63v4.06h-4.63zM64.7 561.6h4.63v4.06h-4.63zM60.6 572.3h4.63v4.06h-4.63z"/>
<path fill="#3c4f8b" d="M64.7 547.4h4.63v4.06h-4.63zM64.7 554.5h4.63v4.06h-4.63zM64.7 558.1h4.63v4.06h-4.63zM60.6 568.8h4.63v4.06h-4.63z"/>
<path fill="#46307c" d="M60.6 558.1h4.63v4.06h-4.63zM60.6 565.2h4.63v4.06h-4.63z"/>
<rect x="38.30" y="492.60" width="135.30" height="113.30" fill="none" stroke="#111" stroke-width="1.50"/>
<g stroke="#999" stroke-width="0.45"><line x1="43.80" y1="605.90" x2="43.80" y2="608.10"/><line x1="85.40" y1="605.90" x2="85.40" y2="608.10"/><line x1="127.00" y1="605.90" x2="127.00" y2="608.10"/><line x1="168.50" y1="605.90" x2="168.50" y2="608.10"/><line x1="36.10" y1="515.60" x2="38.30" y2="515.60"/><line x1="36.10" y1="544.10" x2="38.30" y2="544.10"/><line x1="36.10" y1="572.60" x2="38.30" y2="572.60"/><line x1="36.10" y1="601.10" x2="38.30" y2="601.10"/></g>
<text x="43.80" y="615.50" font-size="9.10" text-anchor="middle" font-weight="normal" fill="#505050">0</text>
<text x="85.40" y="615.50" font-size="9.10" text-anchor="middle" font-weight="normal" fill="#505050">50</text>
<text x="127.00" y="615.50" font-size="9.10" text-anchor="middle" font-weight="normal" fill="#505050">100</text>
<text x="168.50" y="615.50" font-size="9.10" text-anchor="middle" font-weight="normal" fill="#505050">150</text>
<text x="35.40" y="518.80" font-size="9.10" text-anchor="end" font-weight="normal" fill="#505050">750</text>
<text x="35.40" y="547.30" font-size="9.10" text-anchor="end" font-weight="normal" fill="#505050">500</text>
<text x="35.40" y="575.80" font-size="9.10" text-anchor="end" font-weight="normal" fill="#505050">250</text>
<text x="35.40" y="604.30" font-size="9.10" text-anchor="end" font-weight="normal" fill="#505050">0</text>
<text x="34.20" y="483.50" font-size="11.40" text-anchor="start" font-weight="normal" fill="#1a1a1a">J</text>
<text x="105.90" y="626.10" font-size="9.30" text-anchor="middle" font-weight="bold" fill="#111">Plant species richness</text>
<text x="7.60" y="542.00" font-size="9.30" text-anchor="middle" font-weight="bold" fill="#111" transform="rotate(-90 7.6 542)">Mammal and bird</text>
<text x="16.60" y="542.00" font-size="9.30" text-anchor="middle" font-weight="bold" fill="#111" transform="rotate(-90 16.6 542)">species richness</text>
<text x="178.60" y="530.80" font-size="9.30" text-anchor="start" font-weight="normal" fill="#1a1a1a">Nr of pixels</text>
<rect x="181.30" y="535.20" width="8.60" height="40.60" fill="url(#vir)"/>
<g stroke="#fff" stroke-width="0.5" opacity="0.8"><line x1="181.30" y1="539.60" x2="182.90" y2="539.60"/><line x1="188.30" y1="539.60" x2="189.90" y2="539.60"/><line x1="181.30" y1="548.60" x2="182.90" y2="548.60"/><line x1="188.30" y1="548.60" x2="189.90" y2="548.60"/><line x1="181.30" y1="557.60" x2="182.90" y2="557.60"/><line x1="188.30" y1="557.60" x2="189.90" y2="557.60"/><line x1="181.30" y1="566.70" x2="182.90" y2="566.70"/><line x1="188.30" y1="566.70" x2="189.90" y2="566.70"/></g>
<text x="192.50" y="542.90" font-size="9.30" text-anchor="start" font-weight="normal" fill="#1a1a1a">2000</text>
<text x="192.50" y="551.90" font-size="9.30" text-anchor="start" font-weight="normal" fill="#1a1a1a">1500</text>
<text x="192.50" y="560.90" font-size="9.30" text-anchor="start" font-weight="normal" fill="#1a1a1a">1000</text>
<text x="192.50" y="570.00" font-size="9.30" text-anchor="start" font-weight="normal" fill="#1a1a1a">500</text>
<g stroke="#f3f3f3" stroke-width="0.5"><line x1="271.00" y1="492.60" x2="271.00" y2="605.80"/><line x1="289.68" y1="492.60" x2="289.68" y2="605.80"/><line x1="308.37" y1="492.60" x2="308.37" y2="605.80"/><line x1="327.05" y1="492.60" x2="327.05" y2="605.80"/><line x1="345.73" y1="492.60" x2="345.73" y2="605.80"/><line x1="364.42" y1="492.60" x2="364.42" y2="605.80"/><line x1="383.10" y1="492.60" x2="383.10" y2="605.80"/><line x1="266.00" y1="501.35" x2="388.40" y2="501.35"/><line x1="266.00" y1="515.60" x2="388.40" y2="515.60"/><line x1="266.00" y1="529.85" x2="388.40" y2="529.85"/><line x1="266.00" y1="544.10" x2="388.40" y2="544.10"/><line x1="266.00" y1="558.35" x2="388.40" y2="558.35"/><line x1="266.00" y1="572.60" x2="388.40" y2="572.60"/><line x1="266.00" y1="586.85" x2="388.40" y2="586.85"/><line x1="266.00" y1="601.10" x2="388.40" y2="601.10"/></g>
<path fill="#e3e3e3" d="M289.8 508.3h4.21v4.06h-4.21zM289.8 511.9h4.21v4.06h-4.21zM286.1 515.4h4.21v4.06h-4.21zM330.7 515.4h7.93v4.06h-7.93zM341.8 515.4h4.21v4.06h-4.21zM356.6 515.4h4.21v4.06h-4.21zM278.7 519.0h4.21v4.06h-4.21zM338.1 519.0h11.64v4.06h-11.64zM330.7 522.5h4.21v4.06h-4.21zM338.1 522.5h26.49v4.06h-26.49zM371.5 522.5h4.21v4.06h-4.21zM330.7 526.1h4.21v4.06h-4.21zM338.1 526.1h19.07v4.06h-19.07zM360.4 526.1h19.07v4.06h-19.07zM278.7 529.6h4.21v4.06h-4.21zM326.9 529.6h26.49v4.06h-26.49zM323.2 533.2h22.78v4.06h-22.78zM278.7 536.7h4.21v4.06h-4.21zM323.2 536.7h4.21v4.06h-4.21zM330.7 536.7h26.49v4.06h-26.49zM278.7 540.3h4.21v4.06h-4.21zM338.1 540.3h4.21v4.06h-4.21zM345.5 540.3h4.21v4.06h-4.21zM326.9 543.9h11.64v4.06h-11.64zM341.8 543.9h4.21v4.06h-4.21zM338.1 547.4h4.21v4.06h-4.21zM345.5 551.0h4.21v4.06h-4.21zM278.7 554.5h4.21v4.06h-4.21zM338.1 554.5h11.64v4.06h-11.64zM275.0 558.1h4.21v4.06h-4.21zM338.1 558.1h15.35v4.06h-15.35zM356.6 558.1h7.93v4.06h-7.93zM312.1 561.6h19.07v4.06h-19.07zM334.4 561.6h4.21v4.06h-4.21zM341.8 561.6h7.93v4.06h-7.93zM312.1 565.2h7.93v4.06h-7.93zM323.2 565.2h4.21v4.06h-4.21zM349.2 565.2h4.21v4.06h-4.21zM319.5 568.8h26.49v4.06h-26.49zM349.2 568.8h4.21v4.06h-4.21zM334.4 572.3h4.21v4.06h-4.21zM330.7 575.9h22.78v4.06h-22.78zM275.0 579.4h4.21v4.06h-4.21zM330.7 579.4h11.64v4.06h-11.64zM275.0 583.0h4.21v4.06h-4.21zM304.7 583.0h15.35v4.06h-15.35zM323.2 583.0h26.49v4.06h-26.49zM275.0 586.5h4.21v4.06h-4.21zM338.1 586.5h4.21v4.06h-4.21zM275.0 590.1h4.21v4.06h-4.21zM282.4 590.1h4.21v4.06h-4.21zM338.1 590.1h4.21v4.06h-4.21zM275.0 593.6h4.21v4.06h-4.21zM308.4 593.6h4.21v4.06h-4.21zM326.9 593.6h15.35v4.06h-15.35z"/>
<path fill="#ecf43c" d="M293.5 508.3h4.21v4.06h-4.21zM315.8 508.3h4.21v4.06h-4.21zM278.7 511.9h11.64v4.06h-11.64zM293.5 511.9h37.63v4.06h-37.63zM282.4 515.4h4.21v4.06h-4.21zM289.8 515.4h41.34v4.06h-41.34zM282.4 519.0h56.20v4.06h-56.20zM352.9 519.0h4.21v4.06h-4.21zM360.4 519.0h4.21v4.06h-4.21zM282.4 522.5h48.77v4.06h-48.77zM334.4 522.5h4.21v4.06h-4.21zM275.0 526.1h56.20v4.06h-56.20zM334.4 526.1h4.21v4.06h-4.21zM356.6 526.1h4.21v4.06h-4.21zM282.4 529.6h45.06v4.06h-45.06zM278.7 533.2h15.35v4.06h-15.35zM304.7 533.2h19.07v4.06h-19.07zM282.4 536.7h41.34v4.06h-41.34zM326.9 536.7h4.21v4.06h-4.21zM282.4 540.3h7.93v4.06h-7.93zM301.0 540.3h33.92v4.06h-33.92zM278.7 543.9h11.64v4.06h-11.64zM301.0 543.9h26.49v4.06h-26.49zM278.7 547.4h59.91v4.06h-59.91zM278.7 551.0h7.93v4.06h-7.93zM301.0 551.0h45.06v4.06h-45.06zM275.0 554.5h4.21v4.06h-4.21zM282.4 554.5h4.21v4.06h-4.21zM301.0 554.5h37.63v4.06h-37.63zM278.7 558.1h7.93v4.06h-7.93zM301.0 558.1h37.63v4.06h-37.63zM275.0 561.6h11.64v4.06h-11.64zM301.0 561.6h11.64v4.06h-11.64zM330.7 561.6h4.21v4.06h-4.21zM338.1 561.6h4.21v4.06h-4.21zM275.0 565.2h11.64v4.06h-11.64zM301.0 565.2h11.64v4.06h-11.64zM319.5 565.2h4.21v4.06h-4.21zM326.9 565.2h22.78v4.06h-22.78zM275.0 568.8h11.64v4.06h-11.64zM301.0 568.8h19.07v4.06h-19.07zM275.0 572.3h59.91v4.06h-59.91zM275.0 575.9h56.20v4.06h-56.20zM278.7 579.4h52.48v4.06h-52.48zM278.7 583.0h26.49v4.06h-26.49zM319.5 583.0h4.21v4.06h-4.21zM278.7 586.5h52.48v4.06h-52.48zM278.7 590.1h4.21v4.06h-4.21zM286.1 590.1h52.48v4.06h-52.48zM278.7 593.6h30.20v4.06h-30.20zM312.1 593.6h11.64v4.06h-11.64z"/>
<path fill="#d4ee3c" d="M293.5 533.2h11.64v4.06h-11.64zM289.8 540.3h11.64v4.06h-11.64zM289.8 543.9h11.64v4.06h-11.64zM286.1 551.0h15.35v4.06h-15.35zM286.1 554.5h4.21v4.06h-4.21zM293.5 554.5h7.93v4.06h-7.93zM286.1 561.6h4.21v4.06h-4.21zM293.5 561.6h7.93v4.06h-7.93zM286.1 568.8h15.35v4.06h-15.35z"/>
<path fill="#bde73c" d="M289.8 554.5h4.21v4.06h-4.21zM286.1 558.1h15.35v4.06h-15.35zM289.8 561.6h4.21v4.06h-4.21zM286.1 565.2h15.35v4.06h-15.35z"/>
<rect x="266.00" y="492.60" width="122.40" height="113.20" fill="none" stroke="#111" stroke-width="1.50"/>
<g stroke="#999" stroke-width="0.45"><line x1="271.00" y1="605.80" x2="271.00" y2="608.00"/><line x1="308.40" y1="605.80" x2="308.40" y2="608.00"/><line x1="345.80" y1="605.80" x2="345.80" y2="608.00"/><line x1="383.10" y1="605.80" x2="383.10" y2="608.00"/><line x1="263.80" y1="515.60" x2="266.00" y2="515.60"/><line x1="263.80" y1="544.10" x2="266.00" y2="544.10"/><line x1="263.80" y1="572.60" x2="266.00" y2="572.60"/><line x1="263.80" y1="601.10" x2="266.00" y2="601.10"/></g>
<text x="271.00" y="615.50" font-size="9.10" text-anchor="middle" font-weight="normal" fill="#505050">0</text>
<text x="308.40" y="615.50" font-size="9.10" text-anchor="middle" font-weight="normal" fill="#505050">50</text>
<text x="345.80" y="615.50" font-size="9.10" text-anchor="middle" font-weight="normal" fill="#505050">100</text>
<text x="383.10" y="615.50" font-size="9.10" text-anchor="middle" font-weight="normal" fill="#505050">150</text>
<text x="263.10" y="518.80" font-size="9.10" text-anchor="end" font-weight="normal" fill="#505050">750</text>
<text x="263.10" y="547.30" font-size="9.10" text-anchor="end" font-weight="normal" fill="#505050">500</text>
<text x="263.10" y="575.80" font-size="9.10" text-anchor="end" font-weight="normal" fill="#505050">250</text>
<text x="263.10" y="604.30" font-size="9.10" text-anchor="end" font-weight="normal" fill="#505050">0</text>
<text x="251.60" y="484.20" font-size="11.40" text-anchor="start" font-weight="normal" fill="#1a1a1a">K</text>
<text x="327.20" y="626.10" font-size="9.30" text-anchor="middle" font-weight="bold" fill="#111">Plant species richness</text>
<text x="237.20" y="549.20" font-size="9.30" text-anchor="middle" font-weight="bold" fill="#111" transform="rotate(-90 237.2 549.2)">Mammal and bird</text>
<text x="246.20" y="549.20" font-size="9.30" text-anchor="middle" font-weight="bold" fill="#111" transform="rotate(-90 246.2 549.2)">species richness</text>
<text x="391.70" y="531.10" font-size="9.30" text-anchor="start" font-weight="normal" fill="#1a1a1a">Nr of locations</text>
<rect x="396.10" y="535.00" width="7.90" height="40.80" fill="url(#vir)"/>
<g stroke="#fff" stroke-width="0.5" opacity="0.8"><line x1="396.10" y1="539.30" x2="397.70" y2="539.30"/><line x1="402.40" y1="539.30" x2="404.00" y2="539.30"/><line x1="396.10" y1="548.50" x2="397.70" y2="548.50"/><line x1="402.40" y1="548.50" x2="404.00" y2="548.50"/><line x1="396.10" y1="557.80" x2="397.70" y2="557.80"/><line x1="402.40" y1="557.80" x2="404.00" y2="557.80"/><line x1="396.10" y1="567.10" x2="397.70" y2="567.10"/><line x1="402.40" y1="567.10" x2="404.00" y2="567.10"/></g>
<text x="406.80" y="542.60" font-size="9.30" text-anchor="start" font-weight="normal" fill="#1a1a1a">2000</text>
<text x="406.80" y="551.80" font-size="9.30" text-anchor="start" font-weight="normal" fill="#1a1a1a">1500</text>
<text x="406.80" y="561.10" font-size="9.30" text-anchor="start" font-weight="normal" fill="#1a1a1a">1000</text>
<text x="406.80" y="570.40" font-size="9.30" text-anchor="start" font-weight="normal" fill="#1a1a1a">500</text>
<g stroke="#f3f3f3" stroke-width="0.5"><line x1="499.20" y1="492.80" x2="499.20" y2="605.70"/><line x1="518.23" y1="492.80" x2="518.23" y2="605.70"/><line x1="537.27" y1="492.80" x2="537.27" y2="605.70"/><line x1="556.30" y1="492.80" x2="556.30" y2="605.70"/><line x1="575.33" y1="492.80" x2="575.33" y2="605.70"/><line x1="594.37" y1="492.80" x2="594.37" y2="605.70"/><line x1="613.40" y1="492.80" x2="613.40" y2="605.70"/><line x1="493.90" y1="501.35" x2="618.70" y2="501.35"/><line x1="493.90" y1="515.60" x2="618.70" y2="515.60"/><line x1="493.90" y1="529.85" x2="618.70" y2="529.85"/><line x1="493.90" y1="544.10" x2="618.70" y2="544.10"/><line x1="493.90" y1="558.35" x2="618.70" y2="558.35"/><line x1="493.90" y1="572.60" x2="618.70" y2="572.60"/><line x1="493.90" y1="586.85" x2="618.70" y2="586.85"/><line x1="493.90" y1="601.10" x2="618.70" y2="601.10"/></g>
<path fill="#e3e3e3" d="M518.4 508.3h4.28v4.06h-4.28zM544.8 508.3h4.28v4.06h-4.28zM525.9 511.9h8.07v4.06h-8.07zM556.2 511.9h4.28v4.06h-4.28zM563.8 515.4h4.28v4.06h-4.28zM571.3 515.4h4.28v4.06h-4.28zM586.5 515.4h4.28v4.06h-4.28zM563.8 519.0h15.63v4.06h-15.63zM582.7 519.0h4.28v4.06h-4.28zM560.0 522.5h15.63v4.06h-15.63zM578.9 522.5h4.28v4.06h-4.28zM586.5 522.5h8.07v4.06h-8.07zM601.6 522.5h4.28v4.06h-4.28zM560.0 526.1h26.98v4.06h-26.98zM590.2 526.1h19.41v4.06h-19.41zM560.0 529.6h4.28v4.06h-4.28zM567.5 529.6h15.63v4.06h-15.63zM560.0 533.2h15.63v4.06h-15.63zM556.2 536.7h30.76v4.06h-30.76zM560.0 540.3h4.28v4.06h-4.28zM567.5 540.3h4.28v4.06h-4.28zM575.1 540.3h4.28v4.06h-4.28zM556.2 543.9h11.85v4.06h-11.85zM571.3 543.9h4.28v4.06h-4.28zM556.2 547.4h15.63v4.06h-15.63zM567.5 551.0h8.07v4.06h-8.07zM560.0 554.5h19.41v4.06h-19.41zM567.5 558.1h15.63v4.06h-15.63zM586.5 558.1h8.07v4.06h-8.07zM556.2 561.6h23.20v4.06h-23.20zM548.6 565.2h11.85v4.06h-11.85zM552.4 568.8h23.20v4.06h-23.20zM578.9 568.8h4.28v4.06h-4.28zM560.0 572.3h8.07v4.06h-8.07zM560.0 575.9h23.20v4.06h-23.20zM552.4 579.4h19.41v4.06h-19.41zM544.8 583.0h4.28v4.06h-4.28zM556.2 583.0h23.20v4.06h-23.20zM503.2 586.5h4.28v4.06h-4.28zM556.2 586.5h4.28v4.06h-4.28zM567.5 586.5h4.28v4.06h-4.28zM503.2 590.1h8.07v4.06h-8.07zM567.5 590.1h4.28v4.06h-4.28zM503.2 593.6h8.07v4.06h-8.07zM556.2 593.6h15.63v4.06h-15.63z"/>
<path fill="#ecf43c" d="M522.1 508.3h4.28v4.06h-4.28zM503.2 511.9h4.28v4.06h-4.28zM510.8 511.9h11.85v4.06h-11.85zM537.3 511.9h8.07v4.06h-8.07zM548.6 511.9h4.28v4.06h-4.28zM510.8 515.4h8.07v4.06h-8.07zM541.1 515.4h11.85v4.06h-11.85zM560.0 515.4h4.28v4.06h-4.28zM507.0 519.0h4.28v4.06h-4.28zM514.6 519.0h4.28v4.06h-4.28zM548.6 519.0h8.07v4.06h-8.07zM560.0 519.0h4.28v4.06h-4.28zM507.0 522.5h11.85v4.06h-11.85zM544.8 522.5h4.28v4.06h-4.28zM552.4 522.5h4.28v4.06h-4.28zM575.1 522.5h4.28v4.06h-4.28zM582.7 522.5h4.28v4.06h-4.28zM503.2 526.1h4.28v4.06h-4.28zM544.8 526.1h8.07v4.06h-8.07zM556.2 529.6h4.28v4.06h-4.28zM510.8 533.2h4.28v4.06h-4.28zM548.6 533.2h4.28v4.06h-4.28zM507.0 536.7h11.85v4.06h-11.85zM544.8 536.7h4.28v4.06h-4.28zM510.8 540.3h8.07v4.06h-8.07zM544.8 540.3h8.07v4.06h-8.07zM507.0 543.9h11.85v4.06h-11.85zM541.1 543.9h15.63v4.06h-15.63zM510.8 547.4h11.85v4.06h-11.85zM537.3 547.4h11.85v4.06h-11.85zM552.4 547.4h4.28v4.06h-4.28zM507.0 551.0h8.07v4.06h-8.07zM548.6 551.0h19.41v4.06h-19.41zM575.1 551.0h4.28v4.06h-4.28zM507.0 554.5h8.07v4.06h-8.07zM533.5 554.5h8.07v4.06h-8.07zM552.4 554.5h8.07v4.06h-8.07zM503.2 558.1h15.63v4.06h-15.63zM537.3 558.1h30.76v4.06h-30.76zM503.2 561.6h4.28v4.06h-4.28zM510.8 561.6h4.28v4.06h-4.28zM541.1 561.6h4.28v4.06h-4.28zM552.4 561.6h4.28v4.06h-4.28zM507.0 565.2h11.85v4.06h-11.85zM537.3 565.2h11.85v4.06h-11.85zM560.0 565.2h11.85v4.06h-11.85zM578.9 565.2h4.28v4.06h-4.28zM503.2 568.8h8.07v4.06h-8.07zM537.3 568.8h11.85v4.06h-11.85zM503.2 572.3h15.63v4.06h-15.63zM537.3 572.3h11.85v4.06h-11.85zM552.4 572.3h8.07v4.06h-8.07zM503.2 575.9h11.85v4.06h-11.85zM537.3 575.9h19.41v4.06h-19.41zM503.2 579.4h8.07v4.06h-8.07zM514.6 579.4h4.28v4.06h-4.28zM525.9 579.4h11.85v4.06h-11.85zM544.8 579.4h4.28v4.06h-4.28zM503.2 583.0h26.98v4.06h-26.98zM541.1 583.0h4.28v4.06h-4.28zM548.6 583.0h8.07v4.06h-8.07zM507.0 586.5h4.28v4.06h-4.28zM518.4 586.5h4.28v4.06h-4.28zM529.7 586.5h26.98v4.06h-26.98zM510.8 590.1h8.07v4.06h-8.07zM529.7 590.1h8.07v4.06h-8.07zM541.1 590.1h4.28v4.06h-4.28zM548.6 590.1h4.28v4.06h-4.28zM556.2 590.1h8.07v4.06h-8.07zM514.6 593.6h4.28v4.06h-4.28zM522.1 593.6h8.07v4.06h-8.07zM533.5 593.6h8.07v4.06h-8.07zM548.6 593.6h8.07v4.06h-8.07z"/>
<path fill="#d4ee3c" d="M507.0 511.9h4.28v4.06h-4.28zM522.1 511.9h4.28v4.06h-4.28zM544.8 511.9h4.28v4.06h-4.28zM552.4 511.9h4.28v4.06h-4.28zM507.0 515.4h4.28v4.06h-4.28zM537.3 515.4h4.28v4.06h-4.28zM552.4 515.4h8.07v4.06h-8.07zM510.8 519.0h4.28v4.06h-4.28zM518.4 519.0h8.07v4.06h-8.07zM541.1 519.0h8.07v4.06h-8.07zM556.2 519.0h4.28v4.06h-4.28zM537.3 522.5h4.28v4.06h-4.28zM548.6 522.5h4.28v4.06h-4.28zM556.2 522.5h4.28v4.06h-4.28zM510.8 526.1h8.07v4.06h-8.07zM541.1 526.1h4.28v4.06h-4.28zM586.5 526.1h4.28v4.06h-4.28zM507.0 529.6h11.85v4.06h-11.85zM537.3 529.6h4.28v4.06h-4.28zM544.8 529.6h11.85v4.06h-11.85zM514.6 533.2h4.28v4.06h-4.28zM541.1 533.2h4.28v4.06h-4.28zM552.4 533.2h8.07v4.06h-8.07zM541.1 536.7h4.28v4.06h-4.28zM548.6 536.7h4.28v4.06h-4.28zM507.0 540.3h4.28v4.06h-4.28zM537.3 540.3h4.28v4.06h-4.28zM552.4 540.3h8.07v4.06h-8.07zM518.4 543.9h4.28v4.06h-4.28zM507.0 547.4h4.28v4.06h-4.28zM533.5 547.4h4.28v4.06h-4.28zM522.1 551.0h4.28v4.06h-4.28zM529.7 551.0h4.28v4.06h-4.28zM541.1 551.0h4.28v4.06h-4.28zM578.9 551.0h4.28v4.06h-4.28zM514.6 554.5h4.28v4.06h-4.28zM522.1 554.5h4.28v4.06h-4.28zM541.1 554.5h8.07v4.06h-8.07zM507.0 561.6h4.28v4.06h-4.28zM514.6 561.6h4.28v4.06h-4.28zM525.9 561.6h4.28v4.06h-4.28zM533.5 561.6h4.28v4.06h-4.28zM544.8 561.6h8.07v4.06h-8.07zM503.2 565.2h4.28v4.06h-4.28zM529.7 565.2h8.07v4.06h-8.07zM571.3 565.2h4.28v4.06h-4.28zM518.4 568.8h4.28v4.06h-4.28zM533.5 568.8h4.28v4.06h-4.28zM533.5 572.3h4.28v4.06h-4.28zM548.6 572.3h4.28v4.06h-4.28zM518.4 575.9h4.28v4.06h-4.28zM556.2 575.9h4.28v4.06h-4.28zM510.8 579.4h4.28v4.06h-4.28zM518.4 579.4h4.28v4.06h-4.28zM537.3 579.4h8.07v4.06h-8.07zM548.6 579.4h4.28v4.06h-4.28zM529.7 583.0h4.28v4.06h-4.28zM514.6 586.5h4.28v4.06h-4.28zM525.9 586.5h4.28v4.06h-4.28zM522.1 590.1h8.07v4.06h-8.07zM537.3 590.1h4.28v4.06h-4.28zM544.8 590.1h4.28v4.06h-4.28zM510.8 593.6h4.28v4.06h-4.28zM529.7 593.6h4.28v4.06h-4.28zM541.1 593.6h8.07v4.06h-8.07z"/>
<path fill="#bde73c" d="M533.5 511.9h4.28v4.06h-4.28zM522.1 515.4h8.07v4.06h-8.07zM529.7 519.0h8.07v4.06h-8.07zM518.4 522.5h8.07v4.06h-8.07zM529.7 522.5h8.07v4.06h-8.07zM541.1 522.5h4.28v4.06h-4.28zM522.1 526.1h4.28v4.06h-4.28zM533.5 526.1h8.07v4.06h-8.07zM518.4 529.6h8.07v4.06h-8.07zM533.5 529.6h4.28v4.06h-4.28zM563.8 529.6h4.28v4.06h-4.28zM507.0 533.2h4.28v4.06h-4.28zM518.4 533.2h11.85v4.06h-11.85zM537.3 533.2h4.28v4.06h-4.28zM544.8 533.2h4.28v4.06h-4.28zM518.4 536.7h4.28v4.06h-4.28zM529.7 536.7h11.85v4.06h-11.85zM552.4 536.7h4.28v4.06h-4.28zM518.4 540.3h4.28v4.06h-4.28zM529.7 540.3h4.28v4.06h-4.28zM541.1 540.3h4.28v4.06h-4.28zM525.9 543.9h4.28v4.06h-4.28zM537.3 543.9h4.28v4.06h-4.28zM529.7 547.4h4.28v4.06h-4.28zM548.6 547.4h4.28v4.06h-4.28zM514.6 551.0h8.07v4.06h-8.07zM537.3 551.0h4.28v4.06h-4.28zM503.2 554.5h4.28v4.06h-4.28zM518.4 554.5h4.28v4.06h-4.28zM529.7 554.5h4.28v4.06h-4.28zM548.6 554.5h4.28v4.06h-4.28zM518.4 558.1h4.28v4.06h-4.28zM533.5 558.1h4.28v4.06h-4.28zM518.4 561.6h8.07v4.06h-8.07zM537.3 561.6h4.28v4.06h-4.28zM518.4 565.2h4.28v4.06h-4.28zM510.8 568.8h8.07v4.06h-8.07zM522.1 568.8h4.28v4.06h-4.28zM548.6 568.8h4.28v4.06h-4.28zM529.7 572.3h4.28v4.06h-4.28zM514.6 575.9h4.28v4.06h-4.28zM522.1 575.9h15.63v4.06h-15.63zM522.1 579.4h4.28v4.06h-4.28zM533.5 583.0h8.07v4.06h-8.07zM510.8 586.5h4.28v4.06h-4.28zM522.1 586.5h4.28v4.06h-4.28zM518.4 590.1h4.28v4.06h-4.28zM518.4 593.6h4.28v4.06h-4.28z"/>
<path fill="#7ad55c" d="M518.4 515.4h4.28v4.06h-4.28zM533.5 515.4h4.28v4.06h-4.28zM525.9 519.0h4.28v4.06h-4.28zM537.3 519.0h4.28v4.06h-4.28zM525.9 522.5h4.28v4.06h-4.28zM518.4 526.1h4.28v4.06h-4.28zM525.9 526.1h8.07v4.06h-8.07zM525.9 529.6h8.07v4.06h-8.07zM541.1 529.6h4.28v4.06h-4.28zM529.7 533.2h8.07v4.06h-8.07zM522.1 536.7h8.07v4.06h-8.07zM525.9 540.3h4.28v4.06h-4.28zM533.5 540.3h4.28v4.06h-4.28zM529.7 543.9h4.28v4.06h-4.28zM522.1 547.4h8.07v4.06h-8.07zM525.9 551.0h4.28v4.06h-4.28zM522.1 558.1h8.07v4.06h-8.07zM529.7 561.6h4.28v4.06h-4.28zM522.1 565.2h8.07v4.06h-8.07zM525.9 572.3h4.28v4.06h-4.28z"/>
<path fill="#48c07c" d="M529.7 515.4h4.28v4.06h-4.28zM556.2 526.1h4.28v4.06h-4.28zM533.5 551.0h4.28v4.06h-4.28zM529.7 558.1h4.28v4.06h-4.28z"/>
<path fill="#2aa48a" d="M552.4 526.1h4.28v4.06h-4.28zM522.1 543.9h4.28v4.06h-4.28zM544.8 551.0h4.28v4.06h-4.28zM525.9 554.5h4.28v4.06h-4.28zM525.9 568.8h4.28v4.06h-4.28zM522.1 572.3h4.28v4.06h-4.28z"/>
<path fill="#27888e" d="M522.1 540.3h4.28v4.06h-4.28zM518.4 572.3h4.28v4.06h-4.28zM552.4 590.1h4.28v4.06h-4.28z"/>
<path fill="#460b5e" d="M533.5 543.9h4.28v4.06h-4.28z"/>
<path fill="#3c4f8b" d="M529.7 568.8h4.28v4.06h-4.28z"/>
<rect x="493.90" y="492.80" width="124.80" height="112.90" fill="none" stroke="#111" stroke-width="1.50"/>
<line x1="618.70" y1="492.10" x2="618.70" y2="607.00" stroke="#222" stroke-width="2.7"/>
<line x1="493.20" y1="605.70" x2="620.00" y2="605.70" stroke="#222" stroke-width="2.2"/>
<g stroke="#999" stroke-width="0.45"><line x1="499.20" y1="605.70" x2="499.20" y2="607.90"/><line x1="537.30" y1="605.70" x2="537.30" y2="607.90"/><line x1="575.40" y1="605.70" x2="575.40" y2="607.90"/><line x1="613.40" y1="605.70" x2="613.40" y2="607.90"/><line x1="491.70" y1="515.60" x2="493.90" y2="515.60"/><line x1="491.70" y1="544.10" x2="493.90" y2="544.10"/><line x1="491.70" y1="572.60" x2="493.90" y2="572.60"/><line x1="491.70" y1="601.10" x2="493.90" y2="601.10"/></g>
<text x="499.20" y="615.50" font-size="9.10" text-anchor="middle" font-weight="normal" fill="#505050">0</text>
<text x="537.30" y="615.50" font-size="9.10" text-anchor="middle" font-weight="normal" fill="#505050">50</text>
<text x="575.40" y="615.50" font-size="9.10" text-anchor="middle" font-weight="normal" fill="#505050">100</text>
<text x="613.40" y="615.50" font-size="9.10" text-anchor="middle" font-weight="normal" fill="#505050">150</text>
<text x="490.90" y="518.80" font-size="9.10" text-anchor="end" font-weight="normal" fill="#505050">750</text>
<text x="490.90" y="547.30" font-size="9.10" text-anchor="end" font-weight="normal" fill="#505050">500</text>
<text x="490.90" y="575.80" font-size="9.10" text-anchor="end" font-weight="normal" fill="#505050">250</text>
<text x="490.90" y="604.30" font-size="9.10" text-anchor="end" font-weight="normal" fill="#505050">0</text>
<text x="467.40" y="486.60" font-size="11.40" text-anchor="start" font-weight="normal" fill="#1a1a1a">L</text>
<text x="556.20" y="626.60" font-size="9.30" text-anchor="middle" font-weight="bold" fill="#111">Plant species richness</text>
<text x="463.60" y="549.40" font-size="9.30" text-anchor="middle" font-weight="bold" fill="#111" transform="rotate(-90 463.6 549.4)">Mammal and bird</text>
<text x="472.60" y="549.40" font-size="9.30" text-anchor="middle" font-weight="bold" fill="#111" transform="rotate(-90 472.6 549.4)">species richness</text>
<text x="626.80" y="531.00" font-size="9.30" text-anchor="start" font-weight="normal" fill="#1a1a1a">Nr of citations</text>
<rect x="626.40" y="535.00" width="8.40" height="41.00" fill="url(#vir)"/>
<g stroke="#fff" stroke-width="0.5" opacity="0.8"><line x1="626.40" y1="540.60" x2="628.00" y2="540.60"/><line x1="633.20" y1="540.60" x2="634.80" y2="540.60"/><line x1="626.40" y1="552.50" x2="628.00" y2="552.50"/><line x1="633.20" y1="552.50" x2="634.80" y2="552.50"/><line x1="626.40" y1="564.40" x2="628.00" y2="564.40"/><line x1="633.20" y1="564.40" x2="634.80" y2="564.40"/></g>
<text x="637.80" y="543.90" font-size="9.30" text-anchor="start" font-weight="normal" fill="#1a1a1a">3000</text>
<text x="637.80" y="555.80" font-size="9.30" text-anchor="start" font-weight="normal" fill="#1a1a1a">2000</text>
<text x="637.80" y="567.70" font-size="9.30" text-anchor="start" font-weight="normal" fill="#1a1a1a">1000</text>
<rect x="66.4" y="647.0" width="5.0" height="4.8" fill="#f0f035"/>
<rect x="71.4" y="651.8" width="5.1" height="4.8" fill="#c6e430"/>
<rect x="76.5" y="651.8" width="4.8" height="4.8" fill="#440154"/>
<text x="86.80" y="651.80" font-size="9.95" text-anchor="start" font-weight="normal" fill="#222">Density of conditions, sampling locations</text>
<text x="86.80" y="662.70" font-size="9.95" text-anchor="start" font-weight="normal" fill="#222">and citations</text>
<rect x="324.5" y="646.7" width="5.1" height="5.5" fill="#dcdcdc"/>
<rect x="325.5" y="652.2" width="4.1" height="5.4" fill="#e0e0e0"/>
<rect x="331.4" y="649.6" width="4.8" height="5.1" fill="#dcdcdc"/>
<text x="353.20" y="652.80" font-size="9.95" text-anchor="start" font-weight="normal" fill="#222">Environmental conditions across the entire tropics based</text>
<text x="353.20" y="662.70" font-size="9.95" text-anchor="start" font-weight="normal" fill="#222">on a random sample of 100 000 pixels</text>
</svg>
</body></html>
